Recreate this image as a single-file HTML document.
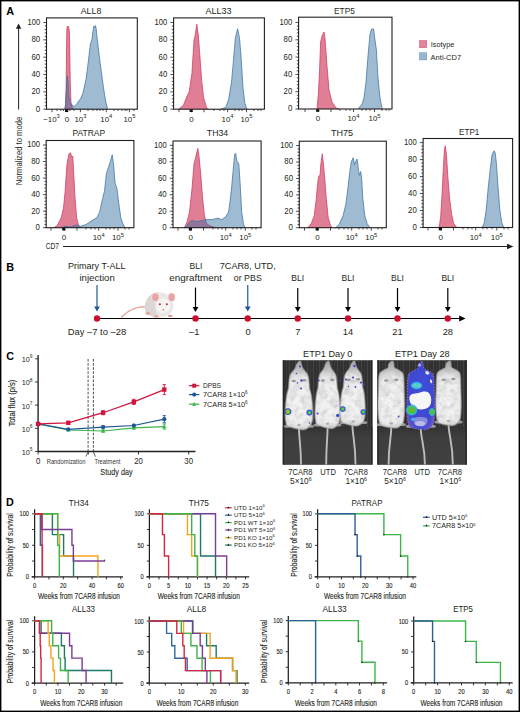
<!DOCTYPE html>
<html><head><meta charset="utf-8"><style>
html,body{margin:0;padding:0;background:#fff;}
body{width:520px;height:712px;overflow:hidden;}
svg{display:block;font-family:"Liberation Sans", sans-serif;}
</style></head><body>
<svg width="520" height="712" viewBox="0 0 520 712" font-family='"Liberation Sans", sans-serif'>
<rect width="520" height="712" fill="#fff"/>
<text x="6.2" y="14.8" font-size="10.8" text-anchor="start" font-weight="bold" fill="#000" >A</text>
<line x1="18.6" y1="109.5" x2="18.6" y2="28" stroke="#231f20" stroke-width="1"/>
<path d="M15.9,28.8 L18.6,23.6 L21.3,28.8 Z" fill="#231f20"/>
<text transform="translate(21.7,151) rotate(-90)" font-size="8.6" text-anchor="middle" fill="#231f20" textLength="68.5" lengthAdjust="spacingAndGlyphs">Normalized to mode</text>
<text x="45.8" y="249.3" font-size="8.8" text-anchor="start" font-weight="normal" fill="#231f20" textLength="13.2" lengthAdjust="spacingAndGlyphs" >CD7</text>
<line x1="63" y1="246.5" x2="508" y2="246.5" stroke="#231f20" stroke-width="1"/>
<path d="M507,243.8 L513.5,246.5 L507,249.2 Z" fill="#231f20"/>
<path d="M64.80,109.20 L65.60,104.00 L66.10,90.00 L66.40,60.00 L66.80,30.00 L67.20,26.50 L68.60,26.50 L69.40,32.00 L69.90,60.00 L70.30,85.00 L71.00,103.00 L72.50,108.50 L74.00,109.20 Z" fill="#cc2850" fill-opacity="0.6" stroke="none"/>
<path d="M64.80,109.20 L65.60,104.00 L66.10,90.00 L66.40,60.00 L66.80,30.00 L67.20,26.50 L68.60,26.50 L69.40,32.00 L69.90,60.00 L70.30,85.00 L71.00,103.00 L72.50,108.50 L74.00,109.20" fill="none" stroke="#cf3a5e" stroke-width="0.75" stroke-linejoin="round"/>
<path d="M65.20,109.20 L65.80,100.00 L66.60,85.00 L67.30,75.70 L68.10,82.00 L68.80,96.50 L70.20,102.40 L72.20,105.20 L74.20,106.40 L76.50,104.50 L79.00,100.50 L80.40,99.20 L83.00,93.00 L86.20,78.50 L88.50,60.00 L90.40,43.80 L91.90,40.00 L93.00,31.00 L93.80,26.20 L94.50,27.50 L95.40,25.60 L96.20,29.00 L96.70,34.20 L98.70,51.50 L100.00,62.00 L101.50,72.70 L103.50,88.00 L105.40,99.60 L106.50,105.00 L107.70,109.20 Z" fill="#326ea0" fill-opacity="0.47" stroke="none"/>
<path d="M65.20,109.20 L65.80,100.00 L66.60,85.00 L67.30,75.70 L68.10,82.00 L68.80,96.50 L70.20,102.40 L72.20,105.20 L74.20,106.40 L76.50,104.50 L79.00,100.50 L80.40,99.20 L83.00,93.00 L86.20,78.50 L88.50,60.00 L90.40,43.80 L91.90,40.00 L93.00,31.00 L93.80,26.20 L94.50,27.50 L95.40,25.60 L96.20,29.00 L96.70,34.20 L98.70,51.50 L100.00,62.00 L101.50,72.70 L103.50,88.00 L105.40,99.60 L106.50,105.00 L107.70,109.20" fill="none" stroke="#3d73a3" stroke-width="0.75" stroke-linejoin="round"/>
<rect x="46.5" y="17.9" width="90.80000000000001" height="91.30000000000001" fill="none" stroke="#231f20" stroke-width="1.1"/>
<line x1="43.30" y1="109.20" x2="46.5" y2="109.20" stroke="#231f20" stroke-width="0.8"/>
<text x="40.2" y="111.65" font-size="8.6" text-anchor="end" font-weight="normal" fill="#231f20" textLength="4.4" lengthAdjust="spacingAndGlyphs" >0</text>
<line x1="44.70" y1="105.73" x2="46.5" y2="105.73" stroke="#231f20" stroke-width="0.8"/>
<line x1="44.70" y1="102.26" x2="46.5" y2="102.26" stroke="#231f20" stroke-width="0.8"/>
<line x1="44.70" y1="98.80" x2="46.5" y2="98.80" stroke="#231f20" stroke-width="0.8"/>
<line x1="44.70" y1="95.33" x2="46.5" y2="95.33" stroke="#231f20" stroke-width="0.8"/>
<line x1="43.30" y1="91.86" x2="46.5" y2="91.86" stroke="#231f20" stroke-width="0.8"/>
<text x="40.2" y="94.31" font-size="8.6" text-anchor="end" font-weight="normal" fill="#231f20" textLength="8.7" lengthAdjust="spacingAndGlyphs" >20</text>
<line x1="44.70" y1="88.39" x2="46.5" y2="88.39" stroke="#231f20" stroke-width="0.8"/>
<line x1="44.70" y1="84.92" x2="46.5" y2="84.92" stroke="#231f20" stroke-width="0.8"/>
<line x1="44.70" y1="81.46" x2="46.5" y2="81.46" stroke="#231f20" stroke-width="0.8"/>
<line x1="44.70" y1="77.99" x2="46.5" y2="77.99" stroke="#231f20" stroke-width="0.8"/>
<line x1="43.30" y1="74.52" x2="46.5" y2="74.52" stroke="#231f20" stroke-width="0.8"/>
<text x="40.2" y="76.97000000000001" font-size="8.6" text-anchor="end" font-weight="normal" fill="#231f20" textLength="8.7" lengthAdjust="spacingAndGlyphs" >40</text>
<line x1="44.70" y1="71.05" x2="46.5" y2="71.05" stroke="#231f20" stroke-width="0.8"/>
<line x1="44.70" y1="67.58" x2="46.5" y2="67.58" stroke="#231f20" stroke-width="0.8"/>
<line x1="44.70" y1="64.12" x2="46.5" y2="64.12" stroke="#231f20" stroke-width="0.8"/>
<line x1="44.70" y1="60.65" x2="46.5" y2="60.65" stroke="#231f20" stroke-width="0.8"/>
<line x1="43.30" y1="57.18" x2="46.5" y2="57.18" stroke="#231f20" stroke-width="0.8"/>
<text x="40.2" y="59.63000000000001" font-size="8.6" text-anchor="end" font-weight="normal" fill="#231f20" textLength="8.7" lengthAdjust="spacingAndGlyphs" >60</text>
<line x1="44.70" y1="53.71" x2="46.5" y2="53.71" stroke="#231f20" stroke-width="0.8"/>
<line x1="44.70" y1="50.24" x2="46.5" y2="50.24" stroke="#231f20" stroke-width="0.8"/>
<line x1="44.70" y1="46.78" x2="46.5" y2="46.78" stroke="#231f20" stroke-width="0.8"/>
<line x1="44.70" y1="43.31" x2="46.5" y2="43.31" stroke="#231f20" stroke-width="0.8"/>
<line x1="43.30" y1="39.84" x2="46.5" y2="39.84" stroke="#231f20" stroke-width="0.8"/>
<text x="40.2" y="42.290000000000006" font-size="8.6" text-anchor="end" font-weight="normal" fill="#231f20" textLength="8.7" lengthAdjust="spacingAndGlyphs" >80</text>
<line x1="44.70" y1="36.37" x2="46.5" y2="36.37" stroke="#231f20" stroke-width="0.8"/>
<line x1="44.70" y1="32.90" x2="46.5" y2="32.90" stroke="#231f20" stroke-width="0.8"/>
<line x1="44.70" y1="29.44" x2="46.5" y2="29.44" stroke="#231f20" stroke-width="0.8"/>
<line x1="44.70" y1="25.97" x2="46.5" y2="25.97" stroke="#231f20" stroke-width="0.8"/>
<line x1="43.30" y1="22.50" x2="46.5" y2="22.50" stroke="#231f20" stroke-width="0.8"/>
<text x="40.2" y="24.95" font-size="8.6" text-anchor="end" font-weight="normal" fill="#231f20" textLength="12.7" lengthAdjust="spacingAndGlyphs" >100</text>
<line x1="52.00" y1="109.2" x2="52.00" y2="112.2" stroke="#231f20" stroke-width="0.8"/>
<line x1="57.00" y1="109.2" x2="57.00" y2="111.0" stroke="#231f20" stroke-width="0.8"/>
<line x1="61.00" y1="109.2" x2="61.00" y2="111.0" stroke="#231f20" stroke-width="0.8"/>
<line x1="63.50" y1="109.2" x2="63.50" y2="111.0" stroke="#231f20" stroke-width="0.8"/>
<line x1="66.90" y1="109.2" x2="66.90" y2="112.2" stroke="#231f20" stroke-width="0.8"/>
<line x1="70.00" y1="109.2" x2="70.00" y2="111.0" stroke="#231f20" stroke-width="0.8"/>
<line x1="74.00" y1="109.2" x2="74.00" y2="111.0" stroke="#231f20" stroke-width="0.8"/>
<line x1="80.40" y1="109.2" x2="80.40" y2="112.2" stroke="#231f20" stroke-width="0.8"/>
<line x1="88.00" y1="109.2" x2="88.00" y2="111.0" stroke="#231f20" stroke-width="0.8"/>
<line x1="93.00" y1="109.2" x2="93.00" y2="111.0" stroke="#231f20" stroke-width="0.8"/>
<line x1="97.00" y1="109.2" x2="97.00" y2="111.0" stroke="#231f20" stroke-width="0.8"/>
<line x1="100.00" y1="109.2" x2="100.00" y2="111.0" stroke="#231f20" stroke-width="0.8"/>
<line x1="103.00" y1="109.2" x2="103.00" y2="111.0" stroke="#231f20" stroke-width="0.8"/>
<line x1="106.30" y1="109.2" x2="106.30" y2="112.2" stroke="#231f20" stroke-width="0.8"/>
<line x1="114.00" y1="109.2" x2="114.00" y2="111.0" stroke="#231f20" stroke-width="0.8"/>
<line x1="118.00" y1="109.2" x2="118.00" y2="111.0" stroke="#231f20" stroke-width="0.8"/>
<line x1="122.00" y1="109.2" x2="122.00" y2="111.0" stroke="#231f20" stroke-width="0.8"/>
<line x1="125.00" y1="109.2" x2="125.00" y2="111.0" stroke="#231f20" stroke-width="0.8"/>
<line x1="127.00" y1="109.2" x2="127.00" y2="111.0" stroke="#231f20" stroke-width="0.8"/>
<line x1="129.40" y1="109.2" x2="129.40" y2="112.2" stroke="#231f20" stroke-width="0.8"/>
<line x1="134.00" y1="109.2" x2="134.00" y2="111.0" stroke="#231f20" stroke-width="0.8"/>
<text x="51.5" y="121.5" font-size="7.9" text-anchor="middle" fill="#231f20">&#8722;10<tspan font-size="5.8" dy="-3.3">3</tspan></text>
<text x="66.9" y="121.5" font-size="8.0" text-anchor="middle" font-weight="normal" fill="#231f20" >0</text>
<rect x="65.00" y="109.50" width="3.2" height="2.5" fill="#111"/>
<text x="80.4" y="121.5" font-size="7.9" text-anchor="middle" fill="#231f20">10<tspan font-size="5.8" dy="-3.3">3</tspan></text>
<text x="106.3" y="121.5" font-size="7.9" text-anchor="middle" fill="#231f20">10<tspan font-size="5.8" dy="-3.3">4</tspan></text>
<text x="129.4" y="121.5" font-size="7.9" text-anchor="middle" fill="#231f20">10<tspan font-size="5.8" dy="-3.3">5</tspan></text>
<text x="91.0" y="13.6" font-size="9.3" text-anchor="middle" font-weight="normal" fill="#231f20" textLength="20.6" lengthAdjust="spacingAndGlyphs" >ALL8</text>
<path d="M178.60,109.20 L183.40,105.30 L187.20,95.80 L189.20,91.90 L192.00,72.70 L194.00,40.00 L195.00,36.20 L196.80,24.20 L198.40,36.20 L199.70,53.50 L201.70,80.40 L203.60,97.70 L206.50,107.30 L208.40,109.20 Z" fill="#cc2850" fill-opacity="0.6" stroke="none"/>
<path d="M178.60,109.20 L183.40,105.30 L187.20,95.80 L189.20,91.90 L192.00,72.70 L194.00,40.00 L195.00,36.20 L196.80,24.20 L198.40,36.20 L199.70,53.50 L201.70,80.40 L203.60,97.70 L206.50,107.30 L208.40,109.20" fill="none" stroke="#cf3a5e" stroke-width="0.75" stroke-linejoin="round"/>
<path d="M220.90,109.20 L225.70,107.30 L228.60,99.60 L231.50,82.30 L233.40,61.20 L235.30,38.10 L237.60,28.80 L239.50,38.10 L241.10,57.30 L243.00,88.10 L244.90,103.50 L246.80,109.20 Z" fill="#326ea0" fill-opacity="0.47" stroke="none"/>
<path d="M220.90,109.20 L225.70,107.30 L228.60,99.60 L231.50,82.30 L233.40,61.20 L235.30,38.10 L237.60,28.80 L239.50,38.10 L241.10,57.30 L243.00,88.10 L244.90,103.50 L246.80,109.20" fill="none" stroke="#3d73a3" stroke-width="0.75" stroke-linejoin="round"/>
<rect x="173.6" y="17.9" width="90.79999999999998" height="91.30000000000001" fill="none" stroke="#231f20" stroke-width="1.1"/>
<line x1="170.40" y1="109.20" x2="173.6" y2="109.20" stroke="#231f20" stroke-width="0.8"/>
<text x="167.29999999999998" y="111.65" font-size="8.6" text-anchor="end" font-weight="normal" fill="#231f20" textLength="4.4" lengthAdjust="spacingAndGlyphs" >0</text>
<line x1="171.80" y1="105.73" x2="173.6" y2="105.73" stroke="#231f20" stroke-width="0.8"/>
<line x1="171.80" y1="102.26" x2="173.6" y2="102.26" stroke="#231f20" stroke-width="0.8"/>
<line x1="171.80" y1="98.80" x2="173.6" y2="98.80" stroke="#231f20" stroke-width="0.8"/>
<line x1="171.80" y1="95.33" x2="173.6" y2="95.33" stroke="#231f20" stroke-width="0.8"/>
<line x1="170.40" y1="91.86" x2="173.6" y2="91.86" stroke="#231f20" stroke-width="0.8"/>
<text x="167.29999999999998" y="94.31" font-size="8.6" text-anchor="end" font-weight="normal" fill="#231f20" textLength="8.7" lengthAdjust="spacingAndGlyphs" >20</text>
<line x1="171.80" y1="88.39" x2="173.6" y2="88.39" stroke="#231f20" stroke-width="0.8"/>
<line x1="171.80" y1="84.92" x2="173.6" y2="84.92" stroke="#231f20" stroke-width="0.8"/>
<line x1="171.80" y1="81.46" x2="173.6" y2="81.46" stroke="#231f20" stroke-width="0.8"/>
<line x1="171.80" y1="77.99" x2="173.6" y2="77.99" stroke="#231f20" stroke-width="0.8"/>
<line x1="170.40" y1="74.52" x2="173.6" y2="74.52" stroke="#231f20" stroke-width="0.8"/>
<text x="167.29999999999998" y="76.97000000000001" font-size="8.6" text-anchor="end" font-weight="normal" fill="#231f20" textLength="8.7" lengthAdjust="spacingAndGlyphs" >40</text>
<line x1="171.80" y1="71.05" x2="173.6" y2="71.05" stroke="#231f20" stroke-width="0.8"/>
<line x1="171.80" y1="67.58" x2="173.6" y2="67.58" stroke="#231f20" stroke-width="0.8"/>
<line x1="171.80" y1="64.12" x2="173.6" y2="64.12" stroke="#231f20" stroke-width="0.8"/>
<line x1="171.80" y1="60.65" x2="173.6" y2="60.65" stroke="#231f20" stroke-width="0.8"/>
<line x1="170.40" y1="57.18" x2="173.6" y2="57.18" stroke="#231f20" stroke-width="0.8"/>
<text x="167.29999999999998" y="59.63000000000001" font-size="8.6" text-anchor="end" font-weight="normal" fill="#231f20" textLength="8.7" lengthAdjust="spacingAndGlyphs" >60</text>
<line x1="171.80" y1="53.71" x2="173.6" y2="53.71" stroke="#231f20" stroke-width="0.8"/>
<line x1="171.80" y1="50.24" x2="173.6" y2="50.24" stroke="#231f20" stroke-width="0.8"/>
<line x1="171.80" y1="46.78" x2="173.6" y2="46.78" stroke="#231f20" stroke-width="0.8"/>
<line x1="171.80" y1="43.31" x2="173.6" y2="43.31" stroke="#231f20" stroke-width="0.8"/>
<line x1="170.40" y1="39.84" x2="173.6" y2="39.84" stroke="#231f20" stroke-width="0.8"/>
<text x="167.29999999999998" y="42.290000000000006" font-size="8.6" text-anchor="end" font-weight="normal" fill="#231f20" textLength="8.7" lengthAdjust="spacingAndGlyphs" >80</text>
<line x1="171.80" y1="36.37" x2="173.6" y2="36.37" stroke="#231f20" stroke-width="0.8"/>
<line x1="171.80" y1="32.90" x2="173.6" y2="32.90" stroke="#231f20" stroke-width="0.8"/>
<line x1="171.80" y1="29.44" x2="173.6" y2="29.44" stroke="#231f20" stroke-width="0.8"/>
<line x1="171.80" y1="25.97" x2="173.6" y2="25.97" stroke="#231f20" stroke-width="0.8"/>
<line x1="170.40" y1="22.50" x2="173.6" y2="22.50" stroke="#231f20" stroke-width="0.8"/>
<text x="167.29999999999998" y="24.95" font-size="8.6" text-anchor="end" font-weight="normal" fill="#231f20" textLength="12.7" lengthAdjust="spacingAndGlyphs" >100</text>
<line x1="179.00" y1="109.2" x2="179.00" y2="112.2" stroke="#231f20" stroke-width="0.8"/>
<line x1="191.50" y1="109.2" x2="191.50" y2="112.2" stroke="#231f20" stroke-width="0.8"/>
<line x1="204.00" y1="109.2" x2="204.00" y2="112.2" stroke="#231f20" stroke-width="0.8"/>
<line x1="214.00" y1="109.2" x2="214.00" y2="111.0" stroke="#231f20" stroke-width="0.8"/>
<line x1="220.00" y1="109.2" x2="220.00" y2="111.0" stroke="#231f20" stroke-width="0.8"/>
<line x1="224.00" y1="109.2" x2="224.00" y2="111.0" stroke="#231f20" stroke-width="0.8"/>
<line x1="227.60" y1="109.2" x2="227.60" y2="112.2" stroke="#231f20" stroke-width="0.8"/>
<line x1="235.00" y1="109.2" x2="235.00" y2="111.0" stroke="#231f20" stroke-width="0.8"/>
<line x1="239.00" y1="109.2" x2="239.00" y2="111.0" stroke="#231f20" stroke-width="0.8"/>
<line x1="242.00" y1="109.2" x2="242.00" y2="111.0" stroke="#231f20" stroke-width="0.8"/>
<line x1="246.50" y1="109.2" x2="246.50" y2="112.2" stroke="#231f20" stroke-width="0.8"/>
<line x1="254.00" y1="109.2" x2="254.00" y2="111.0" stroke="#231f20" stroke-width="0.8"/>
<line x1="258.00" y1="109.2" x2="258.00" y2="111.0" stroke="#231f20" stroke-width="0.8"/>
<line x1="261.00" y1="109.2" x2="261.00" y2="111.0" stroke="#231f20" stroke-width="0.8"/>
<text x="191.5" y="121.5" font-size="8.0" text-anchor="middle" font-weight="normal" fill="#231f20" >0</text>
<rect x="189.60" y="109.50" width="3.2" height="2.5" fill="#111"/>
<text x="227.6" y="121.5" font-size="7.9" text-anchor="middle" fill="#231f20">10<tspan font-size="5.8" dy="-3.3">4</tspan></text>
<text x="246.5" y="121.5" font-size="7.9" text-anchor="middle" fill="#231f20">10<tspan font-size="5.8" dy="-3.3">5</tspan></text>
<text x="218.5" y="13.6" font-size="9.3" text-anchor="middle" font-weight="normal" fill="#231f20" textLength="26.0" lengthAdjust="spacingAndGlyphs" >ALL33</text>
<path d="M317.00,109.00 L318.40,94.00 L319.60,70.00 L320.60,42.00 L322.00,36.00 L324.00,32.00 L325.00,38.00 L327.00,66.00 L329.00,90.00 L332.00,102.00 L336.00,108.00 L339.00,109.00 Z" fill="#cc2850" fill-opacity="0.6" stroke="none"/>
<path d="M317.00,109.00 L318.40,94.00 L319.60,70.00 L320.60,42.00 L322.00,36.00 L324.00,32.00 L325.00,38.00 L327.00,66.00 L329.00,90.00 L332.00,102.00 L336.00,108.00 L339.00,109.00" fill="none" stroke="#cf3a5e" stroke-width="0.75" stroke-linejoin="round"/>
<path d="M358.00,109.00 L362.00,104.00 L364.00,98.00 L366.00,82.00 L368.00,56.00 L370.00,34.00 L371.60,29.00 L373.60,29.00 L375.00,40.00 L376.40,50.00 L378.00,78.00 L380.00,98.00 L382.00,108.00 L383.00,109.00 Z" fill="#326ea0" fill-opacity="0.47" stroke="none"/>
<path d="M358.00,109.00 L362.00,104.00 L364.00,98.00 L366.00,82.00 L368.00,56.00 L370.00,34.00 L371.60,29.00 L373.60,29.00 L375.00,40.00 L376.40,50.00 L378.00,78.00 L380.00,98.00 L382.00,108.00 L383.00,109.00" fill="none" stroke="#3d73a3" stroke-width="0.75" stroke-linejoin="round"/>
<rect x="298.6" y="17.2" width="93.39999999999998" height="91.8" fill="none" stroke="#231f20" stroke-width="1.1"/>
<line x1="295.40" y1="109.00" x2="298.6" y2="109.00" stroke="#231f20" stroke-width="0.8"/>
<text x="292.3" y="111.45" font-size="8.6" text-anchor="end" font-weight="normal" fill="#231f20" textLength="4.4" lengthAdjust="spacingAndGlyphs" >0</text>
<line x1="296.80" y1="105.54" x2="298.6" y2="105.54" stroke="#231f20" stroke-width="0.8"/>
<line x1="296.80" y1="102.08" x2="298.6" y2="102.08" stroke="#231f20" stroke-width="0.8"/>
<line x1="296.80" y1="98.62" x2="298.6" y2="98.62" stroke="#231f20" stroke-width="0.8"/>
<line x1="296.80" y1="95.16" x2="298.6" y2="95.16" stroke="#231f20" stroke-width="0.8"/>
<line x1="295.40" y1="91.70" x2="298.6" y2="91.70" stroke="#231f20" stroke-width="0.8"/>
<text x="292.3" y="94.15" font-size="8.6" text-anchor="end" font-weight="normal" fill="#231f20" textLength="8.7" lengthAdjust="spacingAndGlyphs" >20</text>
<line x1="296.80" y1="88.24" x2="298.6" y2="88.24" stroke="#231f20" stroke-width="0.8"/>
<line x1="296.80" y1="84.78" x2="298.6" y2="84.78" stroke="#231f20" stroke-width="0.8"/>
<line x1="296.80" y1="81.32" x2="298.6" y2="81.32" stroke="#231f20" stroke-width="0.8"/>
<line x1="296.80" y1="77.86" x2="298.6" y2="77.86" stroke="#231f20" stroke-width="0.8"/>
<line x1="295.40" y1="74.40" x2="298.6" y2="74.40" stroke="#231f20" stroke-width="0.8"/>
<text x="292.3" y="76.85000000000001" font-size="8.6" text-anchor="end" font-weight="normal" fill="#231f20" textLength="8.7" lengthAdjust="spacingAndGlyphs" >40</text>
<line x1="296.80" y1="70.94" x2="298.6" y2="70.94" stroke="#231f20" stroke-width="0.8"/>
<line x1="296.80" y1="67.48" x2="298.6" y2="67.48" stroke="#231f20" stroke-width="0.8"/>
<line x1="296.80" y1="64.02" x2="298.6" y2="64.02" stroke="#231f20" stroke-width="0.8"/>
<line x1="296.80" y1="60.56" x2="298.6" y2="60.56" stroke="#231f20" stroke-width="0.8"/>
<line x1="295.40" y1="57.10" x2="298.6" y2="57.10" stroke="#231f20" stroke-width="0.8"/>
<text x="292.3" y="59.550000000000004" font-size="8.6" text-anchor="end" font-weight="normal" fill="#231f20" textLength="8.7" lengthAdjust="spacingAndGlyphs" >60</text>
<line x1="296.80" y1="53.64" x2="298.6" y2="53.64" stroke="#231f20" stroke-width="0.8"/>
<line x1="296.80" y1="50.18" x2="298.6" y2="50.18" stroke="#231f20" stroke-width="0.8"/>
<line x1="296.80" y1="46.72" x2="298.6" y2="46.72" stroke="#231f20" stroke-width="0.8"/>
<line x1="296.80" y1="43.26" x2="298.6" y2="43.26" stroke="#231f20" stroke-width="0.8"/>
<line x1="295.40" y1="39.80" x2="298.6" y2="39.80" stroke="#231f20" stroke-width="0.8"/>
<text x="292.3" y="42.25" font-size="8.6" text-anchor="end" font-weight="normal" fill="#231f20" textLength="8.7" lengthAdjust="spacingAndGlyphs" >80</text>
<line x1="296.80" y1="36.34" x2="298.6" y2="36.34" stroke="#231f20" stroke-width="0.8"/>
<line x1="296.80" y1="32.88" x2="298.6" y2="32.88" stroke="#231f20" stroke-width="0.8"/>
<line x1="296.80" y1="29.42" x2="298.6" y2="29.42" stroke="#231f20" stroke-width="0.8"/>
<line x1="296.80" y1="25.96" x2="298.6" y2="25.96" stroke="#231f20" stroke-width="0.8"/>
<line x1="295.40" y1="22.50" x2="298.6" y2="22.50" stroke="#231f20" stroke-width="0.8"/>
<text x="292.3" y="24.95" font-size="8.6" text-anchor="end" font-weight="normal" fill="#231f20" textLength="12.7" lengthAdjust="spacingAndGlyphs" >100</text>
<line x1="305.00" y1="109.0" x2="305.00" y2="112.0" stroke="#231f20" stroke-width="0.8"/>
<line x1="318.00" y1="109.0" x2="318.00" y2="112.0" stroke="#231f20" stroke-width="0.8"/>
<line x1="331.00" y1="109.0" x2="331.00" y2="112.0" stroke="#231f20" stroke-width="0.8"/>
<line x1="340.00" y1="109.0" x2="340.00" y2="110.8" stroke="#231f20" stroke-width="0.8"/>
<line x1="346.00" y1="109.0" x2="346.00" y2="110.8" stroke="#231f20" stroke-width="0.8"/>
<line x1="350.00" y1="109.0" x2="350.00" y2="110.8" stroke="#231f20" stroke-width="0.8"/>
<line x1="353.50" y1="109.0" x2="353.50" y2="112.0" stroke="#231f20" stroke-width="0.8"/>
<line x1="362.00" y1="109.0" x2="362.00" y2="110.8" stroke="#231f20" stroke-width="0.8"/>
<line x1="366.00" y1="109.0" x2="366.00" y2="110.8" stroke="#231f20" stroke-width="0.8"/>
<line x1="370.00" y1="109.0" x2="370.00" y2="110.8" stroke="#231f20" stroke-width="0.8"/>
<line x1="374.60" y1="109.0" x2="374.60" y2="112.0" stroke="#231f20" stroke-width="0.8"/>
<line x1="382.00" y1="109.0" x2="382.00" y2="110.8" stroke="#231f20" stroke-width="0.8"/>
<line x1="386.00" y1="109.0" x2="386.00" y2="110.8" stroke="#231f20" stroke-width="0.8"/>
<line x1="389.00" y1="109.0" x2="389.00" y2="110.8" stroke="#231f20" stroke-width="0.8"/>
<text x="318" y="121.3" font-size="8.0" text-anchor="middle" font-weight="normal" fill="#231f20" >0</text>
<rect x="316.10" y="109.30" width="3.2" height="2.5" fill="#111"/>
<text x="353.5" y="121.3" font-size="7.9" text-anchor="middle" fill="#231f20">10<tspan font-size="5.8" dy="-3.3">4</tspan></text>
<text x="374.6" y="121.3" font-size="7.9" text-anchor="middle" fill="#231f20">10<tspan font-size="5.8" dy="-3.3">5</tspan></text>
<text x="344.5" y="13.6" font-size="9.3" text-anchor="middle" font-weight="normal" fill="#231f20" textLength="20.9" lengthAdjust="spacingAndGlyphs" >ETP5</text>
<rect x="419.5" y="40.5" width="7.2" height="7.2" fill="#cc2850" fill-opacity="0.57" stroke="#cc2850" stroke-opacity="0.6" stroke-width="0.6"/>
<rect x="419.5" y="52.7" width="7.2" height="7.2" fill="#326ea0" fill-opacity="0.5" stroke="#326ea0" stroke-opacity="0.55" stroke-width="0.6"/>
<text x="430.8" y="47.2" font-size="7.4" text-anchor="start" font-weight="normal" fill="#231f20" textLength="23.6" lengthAdjust="spacingAndGlyphs" >Isotype</text>
<text x="430.6" y="59.6" font-size="7.4" text-anchor="start" font-weight="normal" fill="#231f20" textLength="30.5" lengthAdjust="spacingAndGlyphs" >Anti-CD7</text>
<path d="M53.50,227.90 L57.40,225.40 L61.20,217.70 L63.50,208.10 L65.00,192.70 L67.00,163.80 L68.90,154.20 L70.50,152.70 L71.80,157.10 L72.80,156.20 L73.70,173.50 L75.10,198.50 L76.60,217.70 L78.50,225.40 L80.50,227.90 Z" fill="#cc2850" fill-opacity="0.6" stroke="none"/>
<path d="M53.50,227.90 L57.40,225.40 L61.20,217.70 L63.50,208.10 L65.00,192.70 L67.00,163.80 L68.90,154.20 L70.50,152.70 L71.80,157.10 L72.80,156.20 L73.70,173.50 L75.10,198.50 L76.60,217.70 L78.50,225.40 L80.50,227.90" fill="none" stroke="#cf3a5e" stroke-width="0.75" stroke-linejoin="round"/>
<path d="M61.20,227.90 L65.00,226.30 L70.80,226.90 L75.70,225.00 L80.50,226.30 L86.20,224.40 L92.00,220.60 L96.80,217.70 L99.70,211.90 L102.60,198.50 L104.50,190.80 L106.40,173.50 L108.30,167.70 L110.30,161.90 L112.20,154.80 L113.50,163.80 L115.10,183.10 L117.00,188.80 L118.90,204.20 L120.80,217.70 L122.80,223.50 L125.10,227.90 Z" fill="#326ea0" fill-opacity="0.47" stroke="none"/>
<path d="M61.20,227.90 L65.00,226.30 L70.80,226.90 L75.70,225.00 L80.50,226.30 L86.20,224.40 L92.00,220.60 L96.80,217.70 L99.70,211.90 L102.60,198.50 L104.50,190.80 L106.40,173.50 L108.30,167.70 L110.30,161.90 L112.20,154.80 L113.50,163.80 L115.10,183.10 L117.00,188.80 L118.90,204.20 L120.80,217.70 L122.80,223.50 L125.10,227.90" fill="none" stroke="#3d73a3" stroke-width="0.75" stroke-linejoin="round"/>
<rect x="46.2" y="140.5" width="87.7" height="87.19999999999999" fill="none" stroke="#231f20" stroke-width="1.1"/>
<line x1="43.00" y1="227.70" x2="46.2" y2="227.70" stroke="#231f20" stroke-width="0.8"/>
<text x="39.900000000000006" y="230.14999999999998" font-size="8.6" text-anchor="end" font-weight="normal" fill="#231f20" textLength="4.4" lengthAdjust="spacingAndGlyphs" >0</text>
<line x1="44.40" y1="224.39" x2="46.2" y2="224.39" stroke="#231f20" stroke-width="0.8"/>
<line x1="44.40" y1="221.08" x2="46.2" y2="221.08" stroke="#231f20" stroke-width="0.8"/>
<line x1="44.40" y1="217.78" x2="46.2" y2="217.78" stroke="#231f20" stroke-width="0.8"/>
<line x1="44.40" y1="214.47" x2="46.2" y2="214.47" stroke="#231f20" stroke-width="0.8"/>
<line x1="43.00" y1="211.16" x2="46.2" y2="211.16" stroke="#231f20" stroke-width="0.8"/>
<text x="39.900000000000006" y="213.60999999999999" font-size="8.6" text-anchor="end" font-weight="normal" fill="#231f20" textLength="8.7" lengthAdjust="spacingAndGlyphs" >20</text>
<line x1="44.40" y1="207.85" x2="46.2" y2="207.85" stroke="#231f20" stroke-width="0.8"/>
<line x1="44.40" y1="204.54" x2="46.2" y2="204.54" stroke="#231f20" stroke-width="0.8"/>
<line x1="44.40" y1="201.24" x2="46.2" y2="201.24" stroke="#231f20" stroke-width="0.8"/>
<line x1="44.40" y1="197.93" x2="46.2" y2="197.93" stroke="#231f20" stroke-width="0.8"/>
<line x1="43.00" y1="194.62" x2="46.2" y2="194.62" stroke="#231f20" stroke-width="0.8"/>
<text x="39.900000000000006" y="197.07" font-size="8.6" text-anchor="end" font-weight="normal" fill="#231f20" textLength="8.7" lengthAdjust="spacingAndGlyphs" >40</text>
<line x1="44.40" y1="191.31" x2="46.2" y2="191.31" stroke="#231f20" stroke-width="0.8"/>
<line x1="44.40" y1="188.00" x2="46.2" y2="188.00" stroke="#231f20" stroke-width="0.8"/>
<line x1="44.40" y1="184.70" x2="46.2" y2="184.70" stroke="#231f20" stroke-width="0.8"/>
<line x1="44.40" y1="181.39" x2="46.2" y2="181.39" stroke="#231f20" stroke-width="0.8"/>
<line x1="43.00" y1="178.08" x2="46.2" y2="178.08" stroke="#231f20" stroke-width="0.8"/>
<text x="39.900000000000006" y="180.52999999999997" font-size="8.6" text-anchor="end" font-weight="normal" fill="#231f20" textLength="8.7" lengthAdjust="spacingAndGlyphs" >60</text>
<line x1="44.40" y1="174.77" x2="46.2" y2="174.77" stroke="#231f20" stroke-width="0.8"/>
<line x1="44.40" y1="171.46" x2="46.2" y2="171.46" stroke="#231f20" stroke-width="0.8"/>
<line x1="44.40" y1="168.16" x2="46.2" y2="168.16" stroke="#231f20" stroke-width="0.8"/>
<line x1="44.40" y1="164.85" x2="46.2" y2="164.85" stroke="#231f20" stroke-width="0.8"/>
<line x1="43.00" y1="161.54" x2="46.2" y2="161.54" stroke="#231f20" stroke-width="0.8"/>
<text x="39.900000000000006" y="163.99" font-size="8.6" text-anchor="end" font-weight="normal" fill="#231f20" textLength="8.7" lengthAdjust="spacingAndGlyphs" >80</text>
<line x1="44.40" y1="158.23" x2="46.2" y2="158.23" stroke="#231f20" stroke-width="0.8"/>
<line x1="44.40" y1="154.92" x2="46.2" y2="154.92" stroke="#231f20" stroke-width="0.8"/>
<line x1="44.40" y1="151.62" x2="46.2" y2="151.62" stroke="#231f20" stroke-width="0.8"/>
<line x1="44.40" y1="148.31" x2="46.2" y2="148.31" stroke="#231f20" stroke-width="0.8"/>
<line x1="43.00" y1="145.00" x2="46.2" y2="145.00" stroke="#231f20" stroke-width="0.8"/>
<text x="39.900000000000006" y="147.45" font-size="8.6" text-anchor="end" font-weight="normal" fill="#231f20" textLength="12.7" lengthAdjust="spacingAndGlyphs" >100</text>
<line x1="51.00" y1="227.7" x2="51.00" y2="230.7" stroke="#231f20" stroke-width="0.8"/>
<line x1="64.10" y1="227.7" x2="64.10" y2="230.7" stroke="#231f20" stroke-width="0.8"/>
<line x1="77.00" y1="227.7" x2="77.00" y2="230.7" stroke="#231f20" stroke-width="0.8"/>
<line x1="86.00" y1="227.7" x2="86.00" y2="229.5" stroke="#231f20" stroke-width="0.8"/>
<line x1="91.00" y1="227.7" x2="91.00" y2="229.5" stroke="#231f20" stroke-width="0.8"/>
<line x1="95.00" y1="227.7" x2="95.00" y2="229.5" stroke="#231f20" stroke-width="0.8"/>
<line x1="98.70" y1="227.7" x2="98.70" y2="230.7" stroke="#231f20" stroke-width="0.8"/>
<line x1="106.00" y1="227.7" x2="106.00" y2="229.5" stroke="#231f20" stroke-width="0.8"/>
<line x1="110.00" y1="227.7" x2="110.00" y2="229.5" stroke="#231f20" stroke-width="0.8"/>
<line x1="114.00" y1="227.7" x2="114.00" y2="229.5" stroke="#231f20" stroke-width="0.8"/>
<line x1="118.00" y1="227.7" x2="118.00" y2="230.7" stroke="#231f20" stroke-width="0.8"/>
<line x1="125.00" y1="227.7" x2="125.00" y2="229.5" stroke="#231f20" stroke-width="0.8"/>
<line x1="129.00" y1="227.7" x2="129.00" y2="229.5" stroke="#231f20" stroke-width="0.8"/>
<text x="64.1" y="240.0" font-size="8.0" text-anchor="middle" font-weight="normal" fill="#231f20" >0</text>
<rect x="62.20" y="228.00" width="3.2" height="2.5" fill="#111"/>
<text x="98.7" y="240.0" font-size="7.9" text-anchor="middle" fill="#231f20">10<tspan font-size="5.8" dy="-3.3">4</tspan></text>
<text x="118" y="240.0" font-size="7.9" text-anchor="middle" fill="#231f20">10<tspan font-size="5.8" dy="-3.3">5</tspan></text>
<text x="88.8" y="136.3" font-size="9.3" text-anchor="middle" font-weight="normal" fill="#231f20" textLength="32.7" lengthAdjust="spacingAndGlyphs" >PATRAP</text>
<path d="M184.30,227.90 L187.20,221.50 L189.50,211.90 L192.00,188.80 L194.00,163.80 L195.90,156.20 L197.80,148.50 L198.80,154.20 L200.70,173.50 L202.60,198.50 L204.50,215.80 L206.50,223.50 L209.30,225.40 L214.20,227.30 L216.00,227.90 Z" fill="#cc2850" fill-opacity="0.6" stroke="none"/>
<path d="M184.30,227.90 L187.20,221.50 L189.50,211.90 L192.00,188.80 L194.00,163.80 L195.90,156.20 L197.80,148.50 L198.80,154.20 L200.70,173.50 L202.60,198.50 L204.50,215.80 L206.50,223.50 L209.30,225.40 L214.20,227.30 L216.00,227.90" fill="none" stroke="#cf3a5e" stroke-width="0.75" stroke-linejoin="round"/>
<path d="M184.30,227.90 L187.20,225.40 L190.10,221.50 L192.00,220.60 L196.80,221.50 L202.60,220.60 L206.50,219.60 L212.20,219.60 L218.00,218.10 L221.80,219.60 L225.70,216.70 L228.60,211.90 L229.90,202.30 L231.50,188.80 L233.40,167.70 L234.70,154.20 L235.70,153.30 L236.80,161.00 L238.80,163.80 L240.10,183.10 L241.70,211.90 L243.40,223.50 L244.90,227.90 Z" fill="#326ea0" fill-opacity="0.47" stroke="none"/>
<path d="M184.30,227.90 L187.20,225.40 L190.10,221.50 L192.00,220.60 L196.80,221.50 L202.60,220.60 L206.50,219.60 L212.20,219.60 L218.00,218.10 L221.80,219.60 L225.70,216.70 L228.60,211.90 L229.90,202.30 L231.50,188.80 L233.40,167.70 L234.70,154.20 L235.70,153.30 L236.80,161.00 L238.80,163.80 L240.10,183.10 L241.70,211.90 L243.40,223.50 L244.90,227.90" fill="none" stroke="#3d73a3" stroke-width="0.75" stroke-linejoin="round"/>
<rect x="173.0" y="141.0" width="88.10000000000002" height="86.69999999999999" fill="none" stroke="#231f20" stroke-width="1.1"/>
<line x1="169.80" y1="227.70" x2="173.0" y2="227.70" stroke="#231f20" stroke-width="0.8"/>
<text x="166.7" y="230.14999999999998" font-size="8.6" text-anchor="end" font-weight="normal" fill="#231f20" textLength="4.4" lengthAdjust="spacingAndGlyphs" >0</text>
<line x1="171.20" y1="224.40" x2="173.0" y2="224.40" stroke="#231f20" stroke-width="0.8"/>
<line x1="171.20" y1="221.11" x2="173.0" y2="221.11" stroke="#231f20" stroke-width="0.8"/>
<line x1="171.20" y1="217.81" x2="173.0" y2="217.81" stroke="#231f20" stroke-width="0.8"/>
<line x1="171.20" y1="214.52" x2="173.0" y2="214.52" stroke="#231f20" stroke-width="0.8"/>
<line x1="169.80" y1="211.22" x2="173.0" y2="211.22" stroke="#231f20" stroke-width="0.8"/>
<text x="166.7" y="213.67" font-size="8.6" text-anchor="end" font-weight="normal" fill="#231f20" textLength="8.7" lengthAdjust="spacingAndGlyphs" >20</text>
<line x1="171.20" y1="207.92" x2="173.0" y2="207.92" stroke="#231f20" stroke-width="0.8"/>
<line x1="171.20" y1="204.63" x2="173.0" y2="204.63" stroke="#231f20" stroke-width="0.8"/>
<line x1="171.20" y1="201.33" x2="173.0" y2="201.33" stroke="#231f20" stroke-width="0.8"/>
<line x1="171.20" y1="198.04" x2="173.0" y2="198.04" stroke="#231f20" stroke-width="0.8"/>
<line x1="169.80" y1="194.74" x2="173.0" y2="194.74" stroke="#231f20" stroke-width="0.8"/>
<text x="166.7" y="197.19" font-size="8.6" text-anchor="end" font-weight="normal" fill="#231f20" textLength="8.7" lengthAdjust="spacingAndGlyphs" >40</text>
<line x1="171.20" y1="191.44" x2="173.0" y2="191.44" stroke="#231f20" stroke-width="0.8"/>
<line x1="171.20" y1="188.15" x2="173.0" y2="188.15" stroke="#231f20" stroke-width="0.8"/>
<line x1="171.20" y1="184.85" x2="173.0" y2="184.85" stroke="#231f20" stroke-width="0.8"/>
<line x1="171.20" y1="181.56" x2="173.0" y2="181.56" stroke="#231f20" stroke-width="0.8"/>
<line x1="169.80" y1="178.26" x2="173.0" y2="178.26" stroke="#231f20" stroke-width="0.8"/>
<text x="166.7" y="180.70999999999998" font-size="8.6" text-anchor="end" font-weight="normal" fill="#231f20" textLength="8.7" lengthAdjust="spacingAndGlyphs" >60</text>
<line x1="171.20" y1="174.96" x2="173.0" y2="174.96" stroke="#231f20" stroke-width="0.8"/>
<line x1="171.20" y1="171.67" x2="173.0" y2="171.67" stroke="#231f20" stroke-width="0.8"/>
<line x1="171.20" y1="168.37" x2="173.0" y2="168.37" stroke="#231f20" stroke-width="0.8"/>
<line x1="171.20" y1="165.08" x2="173.0" y2="165.08" stroke="#231f20" stroke-width="0.8"/>
<line x1="169.80" y1="161.78" x2="173.0" y2="161.78" stroke="#231f20" stroke-width="0.8"/>
<text x="166.7" y="164.23000000000002" font-size="8.6" text-anchor="end" font-weight="normal" fill="#231f20" textLength="8.7" lengthAdjust="spacingAndGlyphs" >80</text>
<line x1="171.20" y1="158.48" x2="173.0" y2="158.48" stroke="#231f20" stroke-width="0.8"/>
<line x1="171.20" y1="155.19" x2="173.0" y2="155.19" stroke="#231f20" stroke-width="0.8"/>
<line x1="171.20" y1="151.89" x2="173.0" y2="151.89" stroke="#231f20" stroke-width="0.8"/>
<line x1="171.20" y1="148.60" x2="173.0" y2="148.60" stroke="#231f20" stroke-width="0.8"/>
<line x1="169.80" y1="145.30" x2="173.0" y2="145.30" stroke="#231f20" stroke-width="0.8"/>
<text x="166.7" y="147.75" font-size="8.6" text-anchor="end" font-weight="normal" fill="#231f20" textLength="12.7" lengthAdjust="spacingAndGlyphs" >100</text>
<line x1="178.00" y1="227.7" x2="178.00" y2="230.7" stroke="#231f20" stroke-width="0.8"/>
<line x1="190.70" y1="227.7" x2="190.70" y2="230.7" stroke="#231f20" stroke-width="0.8"/>
<line x1="203.50" y1="227.7" x2="203.50" y2="230.7" stroke="#231f20" stroke-width="0.8"/>
<line x1="213.00" y1="227.7" x2="213.00" y2="229.5" stroke="#231f20" stroke-width="0.8"/>
<line x1="218.00" y1="227.7" x2="218.00" y2="229.5" stroke="#231f20" stroke-width="0.8"/>
<line x1="222.00" y1="227.7" x2="222.00" y2="229.5" stroke="#231f20" stroke-width="0.8"/>
<line x1="225.70" y1="227.7" x2="225.70" y2="230.7" stroke="#231f20" stroke-width="0.8"/>
<line x1="233.00" y1="227.7" x2="233.00" y2="229.5" stroke="#231f20" stroke-width="0.8"/>
<line x1="237.00" y1="227.7" x2="237.00" y2="229.5" stroke="#231f20" stroke-width="0.8"/>
<line x1="241.00" y1="227.7" x2="241.00" y2="229.5" stroke="#231f20" stroke-width="0.8"/>
<line x1="245.30" y1="227.7" x2="245.30" y2="230.7" stroke="#231f20" stroke-width="0.8"/>
<line x1="252.00" y1="227.7" x2="252.00" y2="229.5" stroke="#231f20" stroke-width="0.8"/>
<line x1="256.00" y1="227.7" x2="256.00" y2="229.5" stroke="#231f20" stroke-width="0.8"/>
<text x="190.7" y="240.0" font-size="8.0" text-anchor="middle" font-weight="normal" fill="#231f20" >0</text>
<rect x="188.80" y="228.00" width="3.2" height="2.5" fill="#111"/>
<text x="225.7" y="240.0" font-size="7.9" text-anchor="middle" fill="#231f20">10<tspan font-size="5.8" dy="-3.3">4</tspan></text>
<text x="245.3" y="240.0" font-size="7.9" text-anchor="middle" fill="#231f20">10<tspan font-size="5.8" dy="-3.3">5</tspan></text>
<text x="217.5" y="136.3" font-size="9.3" text-anchor="middle" font-weight="normal" fill="#231f20" textLength="21.4" lengthAdjust="spacingAndGlyphs" >TH34</text>
<path d="M307.50,227.90 L311.30,223.50 L314.20,215.80 L316.10,200.40 L317.50,185.00 L318.60,176.30 L320.00,175.40 L320.90,163.80 L322.30,153.80 L323.20,161.90 L324.80,179.20 L326.30,198.50 L328.20,217.70 L330.50,225.40 L332.50,227.90 Z" fill="#cc2850" fill-opacity="0.6" stroke="none"/>
<path d="M307.50,227.90 L311.30,223.50 L314.20,215.80 L316.10,200.40 L317.50,185.00 L318.60,176.30 L320.00,175.40 L320.90,163.80 L322.30,153.80 L323.20,161.90 L324.80,179.20 L326.30,198.50 L328.20,217.70 L330.50,225.40 L332.50,227.90" fill="none" stroke="#cf3a5e" stroke-width="0.75" stroke-linejoin="round"/>
<path d="M335.30,227.90 L339.20,224.40 L343.00,215.80 L345.90,204.20 L347.80,188.80 L349.80,171.50 L351.30,161.90 L353.20,157.70 L354.60,164.80 L355.50,161.90 L357.10,159.00 L358.40,169.60 L359.40,175.40 L360.70,171.50 L361.70,179.20 L362.80,198.50 L364.80,215.80 L367.10,223.50 L370.00,227.90 Z" fill="#326ea0" fill-opacity="0.47" stroke="none"/>
<path d="M335.30,227.90 L339.20,224.40 L343.00,215.80 L345.90,204.20 L347.80,188.80 L349.80,171.50 L351.30,161.90 L353.20,157.70 L354.60,164.80 L355.50,161.90 L357.10,159.00 L358.40,169.60 L359.40,175.40 L360.70,171.50 L361.70,179.20 L362.80,198.50 L364.80,215.80 L367.10,223.50 L370.00,227.90" fill="none" stroke="#3d73a3" stroke-width="0.75" stroke-linejoin="round"/>
<rect x="299.3" y="141.2" width="87.0" height="86.5" fill="none" stroke="#231f20" stroke-width="1.1"/>
<line x1="296.10" y1="227.70" x2="299.3" y2="227.70" stroke="#231f20" stroke-width="0.8"/>
<text x="293.0" y="230.14999999999998" font-size="8.6" text-anchor="end" font-weight="normal" fill="#231f20" textLength="4.4" lengthAdjust="spacingAndGlyphs" >0</text>
<line x1="297.50" y1="224.42" x2="299.3" y2="224.42" stroke="#231f20" stroke-width="0.8"/>
<line x1="297.50" y1="221.13" x2="299.3" y2="221.13" stroke="#231f20" stroke-width="0.8"/>
<line x1="297.50" y1="217.85" x2="299.3" y2="217.85" stroke="#231f20" stroke-width="0.8"/>
<line x1="297.50" y1="214.56" x2="299.3" y2="214.56" stroke="#231f20" stroke-width="0.8"/>
<line x1="296.10" y1="211.28" x2="299.3" y2="211.28" stroke="#231f20" stroke-width="0.8"/>
<text x="293.0" y="213.73" font-size="8.6" text-anchor="end" font-weight="normal" fill="#231f20" textLength="8.7" lengthAdjust="spacingAndGlyphs" >20</text>
<line x1="297.50" y1="208.00" x2="299.3" y2="208.00" stroke="#231f20" stroke-width="0.8"/>
<line x1="297.50" y1="204.71" x2="299.3" y2="204.71" stroke="#231f20" stroke-width="0.8"/>
<line x1="297.50" y1="201.43" x2="299.3" y2="201.43" stroke="#231f20" stroke-width="0.8"/>
<line x1="297.50" y1="198.14" x2="299.3" y2="198.14" stroke="#231f20" stroke-width="0.8"/>
<line x1="296.10" y1="194.86" x2="299.3" y2="194.86" stroke="#231f20" stroke-width="0.8"/>
<text x="293.0" y="197.30999999999997" font-size="8.6" text-anchor="end" font-weight="normal" fill="#231f20" textLength="8.7" lengthAdjust="spacingAndGlyphs" >40</text>
<line x1="297.50" y1="191.58" x2="299.3" y2="191.58" stroke="#231f20" stroke-width="0.8"/>
<line x1="297.50" y1="188.29" x2="299.3" y2="188.29" stroke="#231f20" stroke-width="0.8"/>
<line x1="297.50" y1="185.01" x2="299.3" y2="185.01" stroke="#231f20" stroke-width="0.8"/>
<line x1="297.50" y1="181.72" x2="299.3" y2="181.72" stroke="#231f20" stroke-width="0.8"/>
<line x1="296.10" y1="178.44" x2="299.3" y2="178.44" stroke="#231f20" stroke-width="0.8"/>
<text x="293.0" y="180.89" font-size="8.6" text-anchor="end" font-weight="normal" fill="#231f20" textLength="8.7" lengthAdjust="spacingAndGlyphs" >60</text>
<line x1="297.50" y1="175.16" x2="299.3" y2="175.16" stroke="#231f20" stroke-width="0.8"/>
<line x1="297.50" y1="171.87" x2="299.3" y2="171.87" stroke="#231f20" stroke-width="0.8"/>
<line x1="297.50" y1="168.59" x2="299.3" y2="168.59" stroke="#231f20" stroke-width="0.8"/>
<line x1="297.50" y1="165.30" x2="299.3" y2="165.30" stroke="#231f20" stroke-width="0.8"/>
<line x1="296.10" y1="162.02" x2="299.3" y2="162.02" stroke="#231f20" stroke-width="0.8"/>
<text x="293.0" y="164.46999999999997" font-size="8.6" text-anchor="end" font-weight="normal" fill="#231f20" textLength="8.7" lengthAdjust="spacingAndGlyphs" >80</text>
<line x1="297.50" y1="158.74" x2="299.3" y2="158.74" stroke="#231f20" stroke-width="0.8"/>
<line x1="297.50" y1="155.45" x2="299.3" y2="155.45" stroke="#231f20" stroke-width="0.8"/>
<line x1="297.50" y1="152.17" x2="299.3" y2="152.17" stroke="#231f20" stroke-width="0.8"/>
<line x1="297.50" y1="148.88" x2="299.3" y2="148.88" stroke="#231f20" stroke-width="0.8"/>
<line x1="296.10" y1="145.60" x2="299.3" y2="145.60" stroke="#231f20" stroke-width="0.8"/>
<text x="293.0" y="148.04999999999998" font-size="8.6" text-anchor="end" font-weight="normal" fill="#231f20" textLength="12.7" lengthAdjust="spacingAndGlyphs" >100</text>
<line x1="304.50" y1="227.7" x2="304.50" y2="230.7" stroke="#231f20" stroke-width="0.8"/>
<line x1="317.50" y1="227.7" x2="317.50" y2="230.7" stroke="#231f20" stroke-width="0.8"/>
<line x1="330.50" y1="227.7" x2="330.50" y2="230.7" stroke="#231f20" stroke-width="0.8"/>
<line x1="339.00" y1="227.7" x2="339.00" y2="229.5" stroke="#231f20" stroke-width="0.8"/>
<line x1="344.00" y1="227.7" x2="344.00" y2="229.5" stroke="#231f20" stroke-width="0.8"/>
<line x1="348.00" y1="227.7" x2="348.00" y2="229.5" stroke="#231f20" stroke-width="0.8"/>
<line x1="351.70" y1="227.7" x2="351.70" y2="230.7" stroke="#231f20" stroke-width="0.8"/>
<line x1="359.00" y1="227.7" x2="359.00" y2="229.5" stroke="#231f20" stroke-width="0.8"/>
<line x1="363.00" y1="227.7" x2="363.00" y2="229.5" stroke="#231f20" stroke-width="0.8"/>
<line x1="367.00" y1="227.7" x2="367.00" y2="229.5" stroke="#231f20" stroke-width="0.8"/>
<line x1="371.30" y1="227.7" x2="371.30" y2="230.7" stroke="#231f20" stroke-width="0.8"/>
<line x1="378.00" y1="227.7" x2="378.00" y2="229.5" stroke="#231f20" stroke-width="0.8"/>
<line x1="382.00" y1="227.7" x2="382.00" y2="229.5" stroke="#231f20" stroke-width="0.8"/>
<text x="317.5" y="240.0" font-size="8.0" text-anchor="middle" font-weight="normal" fill="#231f20" >0</text>
<rect x="315.60" y="228.00" width="3.2" height="2.5" fill="#111"/>
<text x="351.7" y="240.0" font-size="7.9" text-anchor="middle" fill="#231f20">10<tspan font-size="5.8" dy="-3.3">4</tspan></text>
<text x="371.3" y="240.0" font-size="7.9" text-anchor="middle" fill="#231f20">10<tspan font-size="5.8" dy="-3.3">5</tspan></text>
<text x="342.1" y="136.3" font-size="9.3" text-anchor="middle" font-weight="normal" fill="#231f20" textLength="22.1" lengthAdjust="spacingAndGlyphs" >TH75</text>
<path d="M439.20,227.20 L440.70,216.60 L442.00,195.50 L443.40,166.60 L444.50,149.30 L445.30,145.80 L446.50,155.10 L447.80,176.20 L449.70,199.30 L451.70,214.70 L453.60,223.30 L456.50,227.20 Z" fill="#cc2850" fill-opacity="0.6" stroke="none"/>
<path d="M439.20,227.20 L440.70,216.60 L442.00,195.50 L443.40,166.60 L444.50,149.30 L445.30,145.80 L446.50,155.10 L447.80,176.20 L449.70,199.30 L451.70,214.70 L453.60,223.30 L456.50,227.20" fill="none" stroke="#cf3a5e" stroke-width="0.75" stroke-linejoin="round"/>
<path d="M482.40,227.20 L484.30,222.40 L486.30,208.90 L488.20,187.80 L490.10,170.50 L492.00,155.10 L494.00,150.80 L495.30,153.20 L496.50,164.70 L497.80,183.90 L499.70,208.90 L501.70,222.40 L503.60,227.20 Z" fill="#326ea0" fill-opacity="0.47" stroke="none"/>
<path d="M482.40,227.20 L484.30,222.40 L486.30,208.90 L488.20,187.80 L490.10,170.50 L492.00,155.10 L494.00,150.80 L495.30,153.20 L496.50,164.70 L497.80,183.90 L499.70,208.90 L501.70,222.40 L503.60,227.20" fill="none" stroke="#3d73a3" stroke-width="0.75" stroke-linejoin="round"/>
<rect x="423.1" y="138.5" width="89.5" height="89.0" fill="none" stroke="#231f20" stroke-width="1.1"/>
<line x1="419.90" y1="227.50" x2="423.1" y2="227.50" stroke="#231f20" stroke-width="0.8"/>
<text x="416.8" y="229.95" font-size="8.6" text-anchor="end" font-weight="normal" fill="#231f20" textLength="4.4" lengthAdjust="spacingAndGlyphs" >0</text>
<line x1="421.30" y1="224.10" x2="423.1" y2="224.10" stroke="#231f20" stroke-width="0.8"/>
<line x1="421.30" y1="220.71" x2="423.1" y2="220.71" stroke="#231f20" stroke-width="0.8"/>
<line x1="421.30" y1="217.31" x2="423.1" y2="217.31" stroke="#231f20" stroke-width="0.8"/>
<line x1="421.30" y1="213.92" x2="423.1" y2="213.92" stroke="#231f20" stroke-width="0.8"/>
<line x1="419.90" y1="210.52" x2="423.1" y2="210.52" stroke="#231f20" stroke-width="0.8"/>
<text x="416.8" y="212.97" font-size="8.6" text-anchor="end" font-weight="normal" fill="#231f20" textLength="8.7" lengthAdjust="spacingAndGlyphs" >20</text>
<line x1="421.30" y1="207.12" x2="423.1" y2="207.12" stroke="#231f20" stroke-width="0.8"/>
<line x1="421.30" y1="203.73" x2="423.1" y2="203.73" stroke="#231f20" stroke-width="0.8"/>
<line x1="421.30" y1="200.33" x2="423.1" y2="200.33" stroke="#231f20" stroke-width="0.8"/>
<line x1="421.30" y1="196.94" x2="423.1" y2="196.94" stroke="#231f20" stroke-width="0.8"/>
<line x1="419.90" y1="193.54" x2="423.1" y2="193.54" stroke="#231f20" stroke-width="0.8"/>
<text x="416.8" y="195.98999999999998" font-size="8.6" text-anchor="end" font-weight="normal" fill="#231f20" textLength="8.7" lengthAdjust="spacingAndGlyphs" >40</text>
<line x1="421.30" y1="190.14" x2="423.1" y2="190.14" stroke="#231f20" stroke-width="0.8"/>
<line x1="421.30" y1="186.75" x2="423.1" y2="186.75" stroke="#231f20" stroke-width="0.8"/>
<line x1="421.30" y1="183.35" x2="423.1" y2="183.35" stroke="#231f20" stroke-width="0.8"/>
<line x1="421.30" y1="179.96" x2="423.1" y2="179.96" stroke="#231f20" stroke-width="0.8"/>
<line x1="419.90" y1="176.56" x2="423.1" y2="176.56" stroke="#231f20" stroke-width="0.8"/>
<text x="416.8" y="179.01" font-size="8.6" text-anchor="end" font-weight="normal" fill="#231f20" textLength="8.7" lengthAdjust="spacingAndGlyphs" >60</text>
<line x1="421.30" y1="173.16" x2="423.1" y2="173.16" stroke="#231f20" stroke-width="0.8"/>
<line x1="421.30" y1="169.77" x2="423.1" y2="169.77" stroke="#231f20" stroke-width="0.8"/>
<line x1="421.30" y1="166.37" x2="423.1" y2="166.37" stroke="#231f20" stroke-width="0.8"/>
<line x1="421.30" y1="162.98" x2="423.1" y2="162.98" stroke="#231f20" stroke-width="0.8"/>
<line x1="419.90" y1="159.58" x2="423.1" y2="159.58" stroke="#231f20" stroke-width="0.8"/>
<text x="416.8" y="162.02999999999997" font-size="8.6" text-anchor="end" font-weight="normal" fill="#231f20" textLength="8.7" lengthAdjust="spacingAndGlyphs" >80</text>
<line x1="421.30" y1="156.18" x2="423.1" y2="156.18" stroke="#231f20" stroke-width="0.8"/>
<line x1="421.30" y1="152.79" x2="423.1" y2="152.79" stroke="#231f20" stroke-width="0.8"/>
<line x1="421.30" y1="149.39" x2="423.1" y2="149.39" stroke="#231f20" stroke-width="0.8"/>
<line x1="421.30" y1="146.00" x2="423.1" y2="146.00" stroke="#231f20" stroke-width="0.8"/>
<line x1="419.90" y1="142.60" x2="423.1" y2="142.60" stroke="#231f20" stroke-width="0.8"/>
<text x="416.8" y="145.04999999999998" font-size="8.6" text-anchor="end" font-weight="normal" fill="#231f20" textLength="12.7" lengthAdjust="spacingAndGlyphs" >100</text>
<line x1="428.00" y1="227.5" x2="428.00" y2="230.5" stroke="#231f20" stroke-width="0.8"/>
<line x1="440.70" y1="227.5" x2="440.70" y2="230.5" stroke="#231f20" stroke-width="0.8"/>
<line x1="453.50" y1="227.5" x2="453.50" y2="230.5" stroke="#231f20" stroke-width="0.8"/>
<line x1="463.00" y1="227.5" x2="463.00" y2="229.3" stroke="#231f20" stroke-width="0.8"/>
<line x1="468.00" y1="227.5" x2="468.00" y2="229.3" stroke="#231f20" stroke-width="0.8"/>
<line x1="472.00" y1="227.5" x2="472.00" y2="229.3" stroke="#231f20" stroke-width="0.8"/>
<line x1="475.70" y1="227.5" x2="475.70" y2="230.5" stroke="#231f20" stroke-width="0.8"/>
<line x1="483.00" y1="227.5" x2="483.00" y2="229.3" stroke="#231f20" stroke-width="0.8"/>
<line x1="487.00" y1="227.5" x2="487.00" y2="229.3" stroke="#231f20" stroke-width="0.8"/>
<line x1="492.00" y1="227.5" x2="492.00" y2="229.3" stroke="#231f20" stroke-width="0.8"/>
<line x1="496.80" y1="227.5" x2="496.80" y2="230.5" stroke="#231f20" stroke-width="0.8"/>
<line x1="504.00" y1="227.5" x2="504.00" y2="229.3" stroke="#231f20" stroke-width="0.8"/>
<line x1="508.00" y1="227.5" x2="508.00" y2="229.3" stroke="#231f20" stroke-width="0.8"/>
<text x="440.7" y="239.8" font-size="8.0" text-anchor="middle" font-weight="normal" fill="#231f20" >0</text>
<rect x="438.80" y="227.80" width="3.2" height="2.5" fill="#111"/>
<text x="475.7" y="239.8" font-size="7.9" text-anchor="middle" fill="#231f20">10<tspan font-size="5.8" dy="-3.3">4</tspan></text>
<text x="496.8" y="239.8" font-size="7.9" text-anchor="middle" fill="#231f20">10<tspan font-size="5.8" dy="-3.3">5</tspan></text>
<text x="469.2" y="135.0" font-size="9.3" text-anchor="middle" font-weight="normal" fill="#231f20" textLength="20.3" lengthAdjust="spacingAndGlyphs" >ETP1</text>
<text x="6.3" y="271.4" font-size="10.8" text-anchor="start" font-weight="bold" fill="#000" >B</text>
<g>
<path d="M147.5,307 C139,306 129,309.5 121.5,317" fill="none" stroke="#e2a49c" stroke-width="1.5" stroke-linecap="round"/>
<path d="M144.8,309 C144,300 150,292.5 158.5,292.2 C167,292 173.5,298 173.3,306 C173.2,313 168,317.2 160,317.2 C151,317.2 145.4,315 144.8,309 Z" fill="#ebe7e6"/>
<path d="M144.8,309 C144,300 150,292.5 158.5,292.2 C156,296 154,302 155.5,310 C156.5,314 158,316 160,317.2 C151,317.2 145.4,315 144.8,309 Z" fill="#dcd6d4"/>
<ellipse cx="155.4" cy="297.3" rx="3.7" ry="4.3" fill="#e8a4a4" stroke="#f0ecea" stroke-width="0.7"/>
<ellipse cx="171.6" cy="297.3" rx="3.5" ry="4.2" fill="#e8a4a4" stroke="#f0ecea" stroke-width="0.7"/>
<ellipse cx="163.4" cy="305.6" rx="7.4" ry="7.2" fill="#f7f5f4"/>
<circle cx="159.9" cy="304.3" r="1.0" fill="#b8282a"/>
<circle cx="166.9" cy="304.3" r="1.0" fill="#b8282a"/>
<ellipse cx="163.3" cy="309.8" rx="1.2" ry="0.9" fill="#e09a9a"/>
<ellipse cx="147.8" cy="313.4" rx="2.4" ry="1.3" fill="#e4a39c"/>
<ellipse cx="156.3" cy="316.4" rx="2.4" ry="1.2" fill="#e4a39c"/>
<ellipse cx="170.2" cy="315.9" rx="2.4" ry="1.2" fill="#e4a39c"/>
</g>
<line x1="97" y1="318.5" x2="460" y2="318.5" stroke="#000" stroke-width="1.15"/>
<path d="M459.2,315.5 L465.6,318.5 L459.2,321.5 Z" fill="#000"/>
<circle cx="97" cy="318.5" r="3.2" fill="#c8102e"/>
<circle cx="195.5" cy="318.5" r="3.2" fill="#c8102e"/>
<circle cx="247.75" cy="318.5" r="3.2" fill="#c8102e"/>
<circle cx="297.75" cy="318.5" r="3.2" fill="#c8102e"/>
<circle cx="348" cy="318.5" r="3.2" fill="#c8102e"/>
<circle cx="397.5" cy="318.5" r="3.2" fill="#c8102e"/>
<circle cx="447.8" cy="318.5" r="3.2" fill="#c8102e"/>
<line x1="97" y1="285" x2="97" y2="307.5" stroke="#1f5a96" stroke-width="1.2"/>
<path d="M94.1,306.4 L99.9,306.4 L97,311.5 Z" fill="#1f5a96"/>
<line x1="195.5" y1="287.5" x2="195.5" y2="308" stroke="#000" stroke-width="1.2"/>
<path d="M192.6,306.9 L198.4,306.9 L195.5,312 Z" fill="#000"/>
<line x1="247.75" y1="285" x2="247.75" y2="307.5" stroke="#1f5a96" stroke-width="1.2"/>
<path d="M244.85,306.4 L250.65,306.4 L247.75,311.5 Z" fill="#1f5a96"/>
<line x1="297.75" y1="288" x2="297.75" y2="308" stroke="#000" stroke-width="1.2"/>
<path d="M294.85,306.9 L300.65,306.9 L297.75,312 Z" fill="#000"/>
<line x1="348" y1="288" x2="348" y2="308" stroke="#000" stroke-width="1.2"/>
<path d="M345.1,306.9 L350.9,306.9 L348,312 Z" fill="#000"/>
<line x1="397.5" y1="288" x2="397.5" y2="308" stroke="#000" stroke-width="1.2"/>
<path d="M394.6,306.9 L400.4,306.9 L397.5,312 Z" fill="#000"/>
<line x1="447.8" y1="288" x2="447.8" y2="308" stroke="#000" stroke-width="1.2"/>
<path d="M444.90000000000003,306.9 L450.7,306.9 L447.8,312 Z" fill="#000"/>
<text x="96.8" y="269.3" font-size="9.0" text-anchor="middle" font-weight="normal" fill="#231f20" textLength="57.5" lengthAdjust="spacingAndGlyphs" >Primary T-ALL</text>
<text x="97.1" y="281" font-size="9.0" text-anchor="middle" font-weight="normal" fill="#231f20" textLength="35.4" lengthAdjust="spacingAndGlyphs" >injection</text>
<text x="196" y="269.3" font-size="9.0" text-anchor="middle" font-weight="normal" fill="#231f20" textLength="12.8" lengthAdjust="spacingAndGlyphs" >BLI</text>
<text x="195.6" y="281" font-size="9.0" text-anchor="middle" font-weight="normal" fill="#231f20" textLength="52.6" lengthAdjust="spacingAndGlyphs" >engraftment</text>
<text x="247.7" y="269.3" font-size="9.0" text-anchor="middle" font-weight="normal" fill="#231f20" textLength="56" lengthAdjust="spacingAndGlyphs" >7CAR8, UTD,</text>
<text x="247.8" y="281" font-size="9.0" text-anchor="middle" font-weight="normal" fill="#231f20" textLength="28" lengthAdjust="spacingAndGlyphs" >or PBS</text>
<text x="297.75" y="281" font-size="9.0" text-anchor="middle" font-weight="normal" fill="#231f20" textLength="12.8" lengthAdjust="spacingAndGlyphs" >BLI</text>
<text x="348" y="281" font-size="9.0" text-anchor="middle" font-weight="normal" fill="#231f20" textLength="12.8" lengthAdjust="spacingAndGlyphs" >BLI</text>
<text x="397.5" y="281" font-size="9.0" text-anchor="middle" font-weight="normal" fill="#231f20" textLength="12.8" lengthAdjust="spacingAndGlyphs" >BLI</text>
<text x="447.8" y="281" font-size="9.0" text-anchor="middle" font-weight="normal" fill="#231f20" textLength="12.8" lengthAdjust="spacingAndGlyphs" >BLI</text>
<text x="96.9" y="335.1" font-size="9.3" text-anchor="middle" font-weight="normal" fill="#231f20" textLength="58.5" lengthAdjust="spacingAndGlyphs" >Day &#8211;7 to &#8211;28</text>
<text x="194.2" y="335.1" font-size="9.3" text-anchor="middle" font-weight="normal" fill="#231f20" >&#8211;1</text>
<text x="248" y="335.1" font-size="9.3" text-anchor="middle" font-weight="normal" fill="#231f20" >0</text>
<text x="297.75" y="335.1" font-size="9.3" text-anchor="middle" font-weight="normal" fill="#231f20" >7</text>
<text x="348" y="335.1" font-size="9.3" text-anchor="middle" font-weight="normal" fill="#231f20" >14</text>
<text x="397.5" y="335.1" font-size="9.3" text-anchor="middle" font-weight="normal" fill="#231f20" >21</text>
<text x="447.8" y="335.1" font-size="9.3" text-anchor="middle" font-weight="normal" fill="#231f20" >28</text>
<text x="6.3" y="359.6" font-size="10.8" text-anchor="start" font-weight="bold" fill="#000" >C</text>
<line x1="38.1" y1="355" x2="38.1" y2="451.5" stroke="#231f20" stroke-width="1.35"/>
<line x1="38.1" y1="451.5" x2="195.5" y2="451.5" stroke="#231f20" stroke-width="1.35"/>
<line x1="35.1" y1="358.80" x2="38.1" y2="358.80" stroke="#231f20" stroke-width="0.9"/>
<g transform="translate(32.50,362.30) scale(0.9,1)"><text x="0" y="0" font-size="8.1" text-anchor="end" fill="#231f20">10<tspan font-size="5.4" dy="-3.9">9</tspan></text></g>
<line x1="35.1" y1="381.97" x2="38.1" y2="381.97" stroke="#231f20" stroke-width="0.9"/>
<g transform="translate(32.50,385.47) scale(0.9,1)"><text x="0" y="0" font-size="8.1" text-anchor="end" fill="#231f20">10<tspan font-size="5.4" dy="-3.9">8</tspan></text></g>
<line x1="35.1" y1="405.14" x2="38.1" y2="405.14" stroke="#231f20" stroke-width="0.9"/>
<g transform="translate(32.50,408.64) scale(0.9,1)"><text x="0" y="0" font-size="8.1" text-anchor="end" fill="#231f20">10<tspan font-size="5.4" dy="-3.9">7</tspan></text></g>
<line x1="35.1" y1="428.31" x2="38.1" y2="428.31" stroke="#231f20" stroke-width="0.9"/>
<g transform="translate(32.50,431.81) scale(0.9,1)"><text x="0" y="0" font-size="8.1" text-anchor="end" fill="#231f20">10<tspan font-size="5.4" dy="-3.9">6</tspan></text></g>
<line x1="35.1" y1="451.48" x2="38.1" y2="451.48" stroke="#231f20" stroke-width="0.9"/>
<g transform="translate(32.50,454.98) scale(0.9,1)"><text x="0" y="0" font-size="8.1" text-anchor="end" fill="#231f20">10<tspan font-size="5.4" dy="-3.9">5</tspan></text></g>
<line x1="38.10" y1="451.5" x2="38.10" y2="454.5" stroke="#231f20" stroke-width="0.9"/>
<line x1="88.30" y1="451.5" x2="88.30" y2="454.5" stroke="#231f20" stroke-width="0.9"/>
<line x1="138.50" y1="451.5" x2="138.50" y2="454.5" stroke="#231f20" stroke-width="0.9"/>
<line x1="188.70" y1="451.5" x2="188.70" y2="454.5" stroke="#231f20" stroke-width="0.9"/>
<text x="38.1" y="463.9" font-size="8.6" text-anchor="middle" font-weight="normal" fill="#231f20" textLength="4.4" lengthAdjust="spacingAndGlyphs" >0</text>
<text x="138.5" y="463.9" font-size="8.6" text-anchor="middle" font-weight="normal" fill="#231f20" textLength="8.7" lengthAdjust="spacingAndGlyphs" >20</text>
<text x="188.7" y="463.9" font-size="8.6" text-anchor="middle" font-weight="normal" fill="#231f20" textLength="8.7" lengthAdjust="spacingAndGlyphs" >30</text>
<line x1="88.1" y1="359" x2="88.1" y2="451.5" stroke="#3a3a3a" stroke-width="0.9" stroke-dasharray="2.6,1.5"/>
<line x1="93.4" y1="359" x2="93.4" y2="451.5" stroke="#3a3a3a" stroke-width="0.9" stroke-dasharray="2.6,1.5"/>
<path d="M88.3,451.5 L85.8,456.6 M93.2,451.5 L95.4,456.6" stroke="#231f20" stroke-width="0.7" fill="none"/>
<text x="66.1" y="463.6" font-size="6.8" text-anchor="middle" font-weight="normal" fill="#333" textLength="38.8" lengthAdjust="spacingAndGlyphs" >Randomization</text>
<text x="107.4" y="463.8" font-size="6.8" text-anchor="middle" font-weight="normal" fill="#333" textLength="26" lengthAdjust="spacingAndGlyphs" >Treatment</text>
<text x="116.5" y="474.9" font-size="9.2" text-anchor="middle" font-weight="normal" fill="#231f20" textLength="32.3" lengthAdjust="spacingAndGlyphs" stroke="#231f20" stroke-width="0.1">Study day</text>
<text transform="translate(14.5,403.2) rotate(-90)" font-size="9" text-anchor="middle" fill="#231f20" textLength="46.8" lengthAdjust="spacingAndGlyphs" stroke="#231f20" stroke-width="0.12">Total flux (p/s)</text>
<polyline points="38.1,423.9 68.3,430.0 103.1,431.0 133.8,427.8 164.3,426.6" fill="none" stroke="#3cb64a" stroke-width="1.2"/>
<path d="M35.9,425.5 L40.300000000000004,425.5 L38.1,421.7 Z" fill="#3cb64a"/>
<path d="M68.3,429.4 V430.6 M66.7,429.4 H69.89999999999999 M66.7,430.6 H69.89999999999999" stroke="#3cb64a" stroke-width="0.9" fill="none"/>
<path d="M66.1,431.6 L70.5,431.6 L68.3,427.8 Z" fill="#3cb64a"/>
<path d="M103.1,429.8 V432.2 M101.5,429.8 H104.69999999999999 M101.5,432.2 H104.69999999999999" stroke="#3cb64a" stroke-width="0.9" fill="none"/>
<path d="M100.89999999999999,432.6 L105.3,432.6 L103.1,428.8 Z" fill="#3cb64a"/>
<path d="M133.8,426.6 V429.0 M132.20000000000002,426.6 H135.4 M132.20000000000002,429.0 H135.4" stroke="#3cb64a" stroke-width="0.9" fill="none"/>
<path d="M131.60000000000002,429.40000000000003 L136.0,429.40000000000003 L133.8,425.6 Z" fill="#3cb64a"/>
<path d="M164.3,424.0 V429.20000000000005 M162.70000000000002,424.0 H165.9 M162.70000000000002,429.20000000000005 H165.9" stroke="#3cb64a" stroke-width="0.9" fill="none"/>
<path d="M162.10000000000002,428.20000000000005 L166.5,428.20000000000005 L164.3,424.40000000000003 Z" fill="#3cb64a"/>
<polyline points="38.1,423.9 68.3,429.3 103.1,427.1 133.8,425.5 164.3,419.2" fill="none" stroke="#1f5896" stroke-width="1.2"/>
<circle cx="38.1" cy="423.9" r="2.1" fill="#1f5896"/>
<path d="M68.3,428.5 V430.1 M66.7,428.5 H69.89999999999999 M66.7,430.1 H69.89999999999999" stroke="#1f5896" stroke-width="0.9" fill="none"/>
<circle cx="68.3" cy="429.3" r="2.1" fill="#1f5896"/>
<path d="M103.1,425.90000000000003 V428.3 M101.5,425.90000000000003 H104.69999999999999 M101.5,428.3 H104.69999999999999" stroke="#1f5896" stroke-width="0.9" fill="none"/>
<circle cx="103.1" cy="427.1" r="2.1" fill="#1f5896"/>
<path d="M133.8,424.3 V426.7 M132.20000000000002,424.3 H135.4 M132.20000000000002,426.7 H135.4" stroke="#1f5896" stroke-width="0.9" fill="none"/>
<circle cx="133.8" cy="425.5" r="2.1" fill="#1f5896"/>
<path d="M164.3,415.59999999999997 V422.8 M162.70000000000002,415.59999999999997 H165.9 M162.70000000000002,422.8 H165.9" stroke="#1f5896" stroke-width="0.9" fill="none"/>
<circle cx="164.3" cy="419.2" r="2.1" fill="#1f5896"/>
<polyline points="38.1,423.9 68.3,422.8 103.1,412.7 133.8,401.9 164.3,389.6" fill="none" stroke="#d2143e" stroke-width="1.2"/>
<rect x="35.9" y="421.7" width="4.4" height="4.4" fill="#d2143e"/>
<path d="M68.3,422.0 V423.6 M66.7,422.0 H69.89999999999999 M66.7,423.6 H69.89999999999999" stroke="#d2143e" stroke-width="0.9" fill="none"/>
<rect x="66.1" y="420.6" width="4.4" height="4.4" fill="#d2143e"/>
<path d="M103.1,410.7 V414.7 M101.5,410.7 H104.69999999999999 M101.5,414.7 H104.69999999999999" stroke="#d2143e" stroke-width="0.9" fill="none"/>
<rect x="100.89999999999999" y="410.5" width="4.4" height="4.4" fill="#d2143e"/>
<path d="M133.8,399.29999999999995 V404.5 M132.20000000000002,399.29999999999995 H135.4 M132.20000000000002,404.5 H135.4" stroke="#d2143e" stroke-width="0.9" fill="none"/>
<rect x="131.60000000000002" y="399.7" width="4.4" height="4.4" fill="#d2143e"/>
<path d="M164.3,384.6 V394.6 M162.70000000000002,384.6 H165.9 M162.70000000000002,394.6 H165.9" stroke="#d2143e" stroke-width="0.9" fill="none"/>
<rect x="162.10000000000002" y="387.40000000000003" width="4.4" height="4.4" fill="#d2143e"/>
<line x1="188.9" y1="385.7" x2="199.3" y2="385.7" stroke="#d2143e" stroke-width="1.2"/>
<rect x="192.2" y="383.7" width="4" height="4" fill="#d2143e"/>
<text x="203" y="388.3" font-size="7.3" fill="#231f20" textLength="18" lengthAdjust="spacingAndGlyphs">DPBS</text>
<line x1="188.9" y1="394.6" x2="199.3" y2="394.6" stroke="#1f5896" stroke-width="1.2"/>
<circle cx="194.2" cy="394.6" r="2.1" fill="#1f5896"/>
<text x="203" y="397.20000000000005" font-size="7.3" fill="#231f20" textLength="44.6" lengthAdjust="spacingAndGlyphs">7CAR8 1&#215;10<tspan font-size="4.6" dy="-2.8">6</tspan></text>
<line x1="188.9" y1="404.2" x2="199.3" y2="404.2" stroke="#3cb64a" stroke-width="1.2"/>
<path d="M192.0,405.8 L196.39999999999998,405.8 L194.2,402.0 Z" fill="#3cb64a"/>
<text x="203" y="406.8" font-size="7.3" fill="#231f20" textLength="44.6" lengthAdjust="spacingAndGlyphs">7CAR8 5&#215;10<tspan font-size="4.6" dy="-2.8">6</tspan></text>
<defs>
<pattern id="stripes" width="6" height="20" patternUnits="userSpaceOnUse" x="282.8"><rect width="6" height="20" fill="#2e2e2e"/><rect x="0" width="1.2" height="20" fill="#474747"/><rect x="3.2" width="1" height="20" fill="#3d3d3d"/></pattern>
<linearGradient id="lowbg" x1="0" x2="0" y1="0" y2="1"><stop offset="0" stop-color="#333"/><stop offset="0.25" stop-color="#3e3e3e"/><stop offset="1" stop-color="#414141"/></linearGradient>
<linearGradient id="mshade" x1="0" x2="0" y1="0" y2="1"><stop offset="0" stop-color="#777" stop-opacity="0.55"/><stop offset="0.14" stop-color="#888" stop-opacity="0.35"/><stop offset="0.26" stop-color="#999" stop-opacity="0"/><stop offset="0.9" stop-color="#999" stop-opacity="0"/><stop offset="1" stop-color="#888" stop-opacity="0.3"/></linearGradient>
<radialGradient id="mfur" cx="0.5" cy="0.62" r="0.68"><stop offset="0" stop-color="#f6f6f6"/><stop offset="0.6" stop-color="#ededed"/><stop offset="0.86" stop-color="#dadada"/><stop offset="1" stop-color="#c0c0c0"/></radialGradient>
<radialGradient id="hotspot" cx="0.5" cy="0.5" r="0.5"><stop offset="0" stop-color="#e02020"/><stop offset="0.3" stop-color="#f0d020"/><stop offset="0.55" stop-color="#30c040"/><stop offset="0.8" stop-color="#2050e0"/><stop offset="1" stop-color="#6030c0" stop-opacity="0.5"/></radialGradient>
<radialGradient id="gspot" cx="0.5" cy="0.5" r="0.5"><stop offset="0" stop-color="#c8d820"/><stop offset="0.35" stop-color="#40c040"/><stop offset="0.7" stop-color="#2060e0"/><stop offset="1" stop-color="#5030c0" stop-opacity="0.4"/></radialGradient>
<radialGradient id="cspot" cx="0.5" cy="0.5" r="0.5"><stop offset="0" stop-color="#60d8d0"/><stop offset="0.5" stop-color="#30b0e8"/><stop offset="1" stop-color="#3a40cc" stop-opacity="0"/></radialGradient>
<radialGradient id="gspot2" cx="0.5" cy="0.5" r="0.5"><stop offset="0" stop-color="#58b830"/><stop offset="0.5" stop-color="#48c048"/><stop offset="0.75" stop-color="#30b8e0"/><stop offset="1" stop-color="#3a40cc" stop-opacity="0"/></radialGradient>
<radialGradient id="blimouse" cx="0.5" cy="0.5" r="0.6"><stop offset="0" stop-color="#4250da"/><stop offset="0.75" stop-color="#3e48d2"/><stop offset="1" stop-color="#7058cc"/></radialGradient>
<filter id="blur1" x="-20%" y="-20%" width="140%" height="140%"><feGaussianBlur stdDeviation="0.5"/></filter>
<filter id="furtex" x="0" y="0" width="100%" height="100%"><feTurbulence type="fractalNoise" baseFrequency="0.2" numOctaves="3" seed="7" result="t"/><feColorMatrix in="t" type="matrix" values="0 0 0 0 0.45  0 0 0 0 0.45  0 0 0 0 0.45  1.6 0 0 0 -0.7" result="d"/><feGaussianBlur in="d" stdDeviation="0.4" result="b"/><feComposite in="b" in2="SourceAlpha" operator="in"/></filter>
<filter id="blur2" x="-20%" y="-20%" width="140%" height="140%"><feGaussianBlur stdDeviation="1.2"/></filter>
</defs>
<rect x="282.8" y="360.2" width="89.59999999999997" height="104.4" fill="url(#stripes)"/>
<rect x="282.8" y="427" width="89.59999999999997" height="37.6" fill="url(#lowbg)" opacity="0.93"/>
<rect x="282.8" y="360.2" width="1.3" height="104.4" fill="#262626"/>
<rect x="371.09999999999997" y="360.2" width="1.3" height="104.4" fill="#262626"/>
<rect x="377.4" y="360.2" width="89.40000000000003" height="104.4" fill="url(#stripes)"/>
<rect x="377.4" y="427" width="89.40000000000003" height="37.6" fill="url(#lowbg)" opacity="0.93"/>
<rect x="377.4" y="360.2" width="1.3" height="104.4" fill="#262626"/>
<rect x="465.5" y="360.2" width="1.3" height="104.4" fill="#262626"/>
<path d="M299.00,427.7 C299.00,439.7 301.0,445.7 301.0,464.6" stroke="#bcbcbc" stroke-width="1.9" fill="none"/>
<ellipse cx="287.27" cy="426.20" rx="3.2" ry="1.5" fill="#9c9c9c"/>
<ellipse cx="310.73" cy="426.20" rx="3.2" ry="1.5" fill="#9c9c9c"/>
<path d="M299.97,361.10 C300.70,361.10 300.73,362.96 301.21,364.19 C301.69,365.41 301.81,366.70 302.86,368.44 C303.92,370.18 306.54,372.53 307.56,374.61 C308.57,376.70 308.61,378.67 308.94,380.93 C309.26,383.18 309.12,385.88 309.49,388.13 C309.86,390.38 310.66,391.65 311.14,394.44 C311.63,397.23 312.11,401.39 312.39,404.87 C312.66,408.34 312.85,412.53 312.80,415.29 C312.75,418.06 312.62,419.64 312.11,421.47 C311.60,423.30 311.26,424.90 309.76,426.27 C308.27,427.64 306.73,429.70 303.14,429.70 C299.55,429.70 291.11,427.64 288.24,426.27 C285.36,424.90 286.40,423.30 285.89,421.47 C285.38,419.64 285.25,418.06 285.20,415.29 C285.15,412.53 285.34,408.34 285.61,404.87 C285.89,401.39 286.37,397.23 286.86,394.44 C287.34,391.65 288.14,390.38 288.51,388.13 C288.88,385.88 288.74,383.18 289.06,380.93 C289.39,378.67 289.43,376.70 290.44,374.61 C291.46,372.53 294.08,370.18 295.14,368.44 C296.19,366.70 295.99,365.41 296.79,364.19 C297.60,362.96 299.23,361.10 299.97,361.10 Z" fill="url(#mfur)"/>
<path d="M299.97,361.10 C300.70,361.10 300.73,362.96 301.21,364.19 C301.69,365.41 301.81,366.70 302.86,368.44 C303.92,370.18 306.54,372.53 307.56,374.61 C308.57,376.70 308.61,378.67 308.94,380.93 C309.26,383.18 309.12,385.88 309.49,388.13 C309.86,390.38 310.66,391.65 311.14,394.44 C311.63,397.23 312.11,401.39 312.39,404.87 C312.66,408.34 312.85,412.53 312.80,415.29 C312.75,418.06 312.62,419.64 312.11,421.47 C311.60,423.30 311.26,424.90 309.76,426.27 C308.27,427.64 306.73,429.70 303.14,429.70 C299.55,429.70 291.11,427.64 288.24,426.27 C285.36,424.90 286.40,423.30 285.89,421.47 C285.38,419.64 285.25,418.06 285.20,415.29 C285.15,412.53 285.34,408.34 285.61,404.87 C285.89,401.39 286.37,397.23 286.86,394.44 C287.34,391.65 288.14,390.38 288.51,388.13 C288.88,385.88 288.74,383.18 289.06,380.93 C289.39,378.67 289.43,376.70 290.44,374.61 C291.46,372.53 294.08,370.18 295.14,368.44 C296.19,366.70 295.99,365.41 296.79,364.19 C297.60,362.96 299.23,361.10 299.97,361.10 Z" fill="url(#mshade)"/>
<path d="M299.97,361.10 C300.70,361.10 300.73,362.96 301.21,364.19 C301.69,365.41 301.81,366.70 302.86,368.44 C303.92,370.18 306.54,372.53 307.56,374.61 C308.57,376.70 308.61,378.67 308.94,380.93 C309.26,383.18 309.12,385.88 309.49,388.13 C309.86,390.38 310.66,391.65 311.14,394.44 C311.63,397.23 312.11,401.39 312.39,404.87 C312.66,408.34 312.85,412.53 312.80,415.29 C312.75,418.06 312.62,419.64 312.11,421.47 C311.60,423.30 311.26,424.90 309.76,426.27 C308.27,427.64 306.73,429.70 303.14,429.70 C299.55,429.70 291.11,427.64 288.24,426.27 C285.36,424.90 286.40,423.30 285.89,421.47 C285.38,419.64 285.25,418.06 285.20,415.29 C285.15,412.53 285.34,408.34 285.61,404.87 C285.89,401.39 286.37,397.23 286.86,394.44 C287.34,391.65 288.14,390.38 288.51,388.13 C288.88,385.88 288.74,383.18 289.06,380.93 C289.39,378.67 289.43,376.70 290.44,374.61 C291.46,372.53 294.08,370.18 295.14,368.44 C296.19,366.70 295.99,365.41 296.79,364.19 C297.60,362.96 299.23,361.10 299.97,361.10 Z" fill="#fff" filter="url(#furtex)" opacity="0.7"/>
<path d="M299.97,361.10 C300.70,361.10 300.73,362.96 301.21,364.19 C301.69,365.41 301.81,366.70 302.86,368.44 C303.92,370.18 306.54,372.53 307.56,374.61 C308.57,376.70 308.61,378.67 308.94,380.93 C309.26,383.18 309.12,385.88 309.49,388.13 C309.86,390.38 310.66,391.65 311.14,394.44 C311.63,397.23 312.11,401.39 312.39,404.87 C312.66,408.34 312.85,412.53 312.80,415.29 C312.75,418.06 312.62,419.64 312.11,421.47 C311.60,423.30 311.26,424.90 309.76,426.27 C308.27,427.64 306.73,429.70 303.14,429.70 C299.55,429.70 291.11,427.64 288.24,426.27 C285.36,424.90 286.40,423.30 285.89,421.47 C285.38,419.64 285.25,418.06 285.20,415.29 C285.15,412.53 285.34,408.34 285.61,404.87 C285.89,401.39 286.37,397.23 286.86,394.44 C287.34,391.65 288.14,390.38 288.51,388.13 C288.88,385.88 288.74,383.18 289.06,380.93 C289.39,378.67 289.43,376.70 290.44,374.61 C291.46,372.53 294.08,370.18 295.14,368.44 C296.19,366.70 295.99,365.41 296.79,364.19 C297.60,362.96 299.23,361.10 299.97,361.10 Z" fill="none" stroke="#a0a0a0" stroke-width="1.4" opacity="0.6" filter="url(#blur1)"/>
<ellipse cx="293.48" cy="391.97" rx="4" ry="6" fill="#8a8a8a" opacity="0.12" filter="url(#blur2)"/>
<ellipse cx="305.21" cy="402.26" rx="3.5" ry="7" fill="#8a8a8a" opacity="0.1" filter="url(#blur2)"/>
<ellipse cx="299.00" cy="381.68" rx="5" ry="3" fill="#8a8a8a" opacity="0.12" filter="url(#blur2)"/>
<ellipse cx="296.24" cy="412.55" rx="3" ry="4" fill="#8a8a8a" opacity="0.08" filter="url(#blur2)"/>
<ellipse cx="293.76" cy="380.99" rx="2.2" ry="1.3" fill="#9a9a9a" filter="url(#blur1)"/>
<ellipse cx="304.24" cy="380.31" rx="2.2" ry="1.3" fill="#9a9a9a" filter="url(#blur1)"/>
<ellipse cx="299.00" cy="424.90" rx="1.8" ry="1.2" fill="#b0b0b0" filter="url(#blur1)"/>
<path d="M327.60,426.5 C327.60,438.5 326.2,444.5 326.2,464.6" stroke="#bcbcbc" stroke-width="1.9" fill="none"/>
<ellipse cx="316.89" cy="425.00" rx="3.2" ry="1.5" fill="#9c9c9c"/>
<ellipse cx="338.31" cy="425.00" rx="3.2" ry="1.5" fill="#9c9c9c"/>
<path d="M328.48,361.00 C329.15,361.00 329.18,362.83 329.62,364.04 C330.06,365.24 330.16,366.51 331.13,368.22 C332.09,369.93 334.49,372.25 335.41,374.30 C336.34,376.35 336.38,378.29 336.67,380.51 C336.97,382.72 336.84,385.38 337.18,387.60 C337.51,389.81 338.25,391.06 338.69,393.81 C339.13,396.55 339.57,400.64 339.82,404.06 C340.07,407.49 340.24,411.60 340.20,414.32 C340.16,417.05 340.03,418.60 339.57,420.40 C339.11,422.20 338.79,423.77 337.43,425.12 C336.06,426.48 334.66,428.50 331.38,428.50 C328.10,428.50 320.40,426.48 317.77,425.12 C315.15,423.77 316.09,422.20 315.63,420.40 C315.17,418.60 315.04,417.05 315.00,414.32 C314.96,411.60 315.13,407.49 315.38,404.06 C315.63,400.64 316.07,396.55 316.51,393.81 C316.95,391.06 317.69,389.81 318.02,387.60 C318.36,385.38 318.23,382.72 318.53,380.51 C318.82,378.29 318.86,376.35 319.79,374.30 C320.71,372.25 323.11,369.93 324.07,368.22 C325.04,366.51 324.85,365.24 325.58,364.04 C326.32,362.83 327.81,361.00 328.48,361.00 Z" fill="url(#mfur)"/>
<path d="M328.48,361.00 C329.15,361.00 329.18,362.83 329.62,364.04 C330.06,365.24 330.16,366.51 331.13,368.22 C332.09,369.93 334.49,372.25 335.41,374.30 C336.34,376.35 336.38,378.29 336.67,380.51 C336.97,382.72 336.84,385.38 337.18,387.60 C337.51,389.81 338.25,391.06 338.69,393.81 C339.13,396.55 339.57,400.64 339.82,404.06 C340.07,407.49 340.24,411.60 340.20,414.32 C340.16,417.05 340.03,418.60 339.57,420.40 C339.11,422.20 338.79,423.77 337.43,425.12 C336.06,426.48 334.66,428.50 331.38,428.50 C328.10,428.50 320.40,426.48 317.77,425.12 C315.15,423.77 316.09,422.20 315.63,420.40 C315.17,418.60 315.04,417.05 315.00,414.32 C314.96,411.60 315.13,407.49 315.38,404.06 C315.63,400.64 316.07,396.55 316.51,393.81 C316.95,391.06 317.69,389.81 318.02,387.60 C318.36,385.38 318.23,382.72 318.53,380.51 C318.82,378.29 318.86,376.35 319.79,374.30 C320.71,372.25 323.11,369.93 324.07,368.22 C325.04,366.51 324.85,365.24 325.58,364.04 C326.32,362.83 327.81,361.00 328.48,361.00 Z" fill="url(#mshade)"/>
<path d="M328.48,361.00 C329.15,361.00 329.18,362.83 329.62,364.04 C330.06,365.24 330.16,366.51 331.13,368.22 C332.09,369.93 334.49,372.25 335.41,374.30 C336.34,376.35 336.38,378.29 336.67,380.51 C336.97,382.72 336.84,385.38 337.18,387.60 C337.51,389.81 338.25,391.06 338.69,393.81 C339.13,396.55 339.57,400.64 339.82,404.06 C340.07,407.49 340.24,411.60 340.20,414.32 C340.16,417.05 340.03,418.60 339.57,420.40 C339.11,422.20 338.79,423.77 337.43,425.12 C336.06,426.48 334.66,428.50 331.38,428.50 C328.10,428.50 320.40,426.48 317.77,425.12 C315.15,423.77 316.09,422.20 315.63,420.40 C315.17,418.60 315.04,417.05 315.00,414.32 C314.96,411.60 315.13,407.49 315.38,404.06 C315.63,400.64 316.07,396.55 316.51,393.81 C316.95,391.06 317.69,389.81 318.02,387.60 C318.36,385.38 318.23,382.72 318.53,380.51 C318.82,378.29 318.86,376.35 319.79,374.30 C320.71,372.25 323.11,369.93 324.07,368.22 C325.04,366.51 324.85,365.24 325.58,364.04 C326.32,362.83 327.81,361.00 328.48,361.00 Z" fill="#fff" filter="url(#furtex)" opacity="0.7"/>
<path d="M328.48,361.00 C329.15,361.00 329.18,362.83 329.62,364.04 C330.06,365.24 330.16,366.51 331.13,368.22 C332.09,369.93 334.49,372.25 335.41,374.30 C336.34,376.35 336.38,378.29 336.67,380.51 C336.97,382.72 336.84,385.38 337.18,387.60 C337.51,389.81 338.25,391.06 338.69,393.81 C339.13,396.55 339.57,400.64 339.82,404.06 C340.07,407.49 340.24,411.60 340.20,414.32 C340.16,417.05 340.03,418.60 339.57,420.40 C339.11,422.20 338.79,423.77 337.43,425.12 C336.06,426.48 334.66,428.50 331.38,428.50 C328.10,428.50 320.40,426.48 317.77,425.12 C315.15,423.77 316.09,422.20 315.63,420.40 C315.17,418.60 315.04,417.05 315.00,414.32 C314.96,411.60 315.13,407.49 315.38,404.06 C315.63,400.64 316.07,396.55 316.51,393.81 C316.95,391.06 317.69,389.81 318.02,387.60 C318.36,385.38 318.23,382.72 318.53,380.51 C318.82,378.29 318.86,376.35 319.79,374.30 C320.71,372.25 323.11,369.93 324.07,368.22 C325.04,366.51 324.85,365.24 325.58,364.04 C326.32,362.83 327.81,361.00 328.48,361.00 Z" fill="none" stroke="#a0a0a0" stroke-width="1.4" opacity="0.6" filter="url(#blur1)"/>
<ellipse cx="322.56" cy="391.38" rx="4" ry="6" fill="#8a8a8a" opacity="0.12" filter="url(#blur2)"/>
<ellipse cx="333.27" cy="401.50" rx="3.5" ry="7" fill="#8a8a8a" opacity="0.1" filter="url(#blur2)"/>
<ellipse cx="327.60" cy="381.25" rx="5" ry="3" fill="#8a8a8a" opacity="0.12" filter="url(#blur2)"/>
<ellipse cx="325.08" cy="411.62" rx="3" ry="4" fill="#8a8a8a" opacity="0.08" filter="url(#blur2)"/>
<ellipse cx="322.81" cy="380.57" rx="2.2" ry="1.3" fill="#9a9a9a" filter="url(#blur1)"/>
<ellipse cx="332.39" cy="379.90" rx="2.2" ry="1.3" fill="#9a9a9a" filter="url(#blur1)"/>
<ellipse cx="327.60" cy="423.77" rx="1.8" ry="1.2" fill="#b0b0b0" filter="url(#blur1)"/>
<path d="M352.40,424.0 C352.40,436.0 355.5,442.0 355.5,464.6" stroke="#bcbcbc" stroke-width="1.9" fill="none"/>
<ellipse cx="342.69" cy="422.50" rx="3.2" ry="1.5" fill="#9c9c9c"/>
<ellipse cx="364.11" cy="422.50" rx="3.2" ry="1.5" fill="#9c9c9c"/>
<path d="M354.28,361.00 C354.95,361.00 354.95,362.77 355.37,363.93 C355.79,365.08 355.88,366.31 356.82,367.95 C357.76,369.60 360.12,371.83 361.01,373.81 C361.91,375.78 361.92,377.65 362.18,379.79 C362.44,381.92 362.28,384.48 362.58,386.61 C362.89,388.74 363.60,389.95 364.00,392.59 C364.40,395.23 364.78,399.18 364.98,402.47 C365.19,405.76 365.29,409.73 365.21,412.35 C365.13,414.97 364.98,416.47 364.49,418.20 C364.00,419.93 363.66,421.45 362.28,422.75 C360.89,424.05 359.46,426.00 356.18,426.00 C352.90,426.00 345.23,424.05 342.62,422.75 C340.02,421.45 340.99,419.93 340.55,418.20 C340.11,416.47 340.01,414.97 340.01,412.35 C340.01,409.73 340.24,405.76 340.54,402.47 C340.84,399.18 341.34,395.23 341.83,392.59 C342.31,389.95 343.06,388.74 343.43,386.61 C343.80,384.48 343.71,381.92 344.04,379.79 C344.37,377.65 344.44,375.78 345.39,373.81 C346.35,371.83 348.77,369.60 349.76,367.95 C350.76,366.31 350.59,365.08 351.34,363.93 C352.09,362.77 353.61,361.00 354.28,361.00 Z" fill="url(#mfur)"/>
<path d="M354.28,361.00 C354.95,361.00 354.95,362.77 355.37,363.93 C355.79,365.08 355.88,366.31 356.82,367.95 C357.76,369.60 360.12,371.83 361.01,373.81 C361.91,375.78 361.92,377.65 362.18,379.79 C362.44,381.92 362.28,384.48 362.58,386.61 C362.89,388.74 363.60,389.95 364.00,392.59 C364.40,395.23 364.78,399.18 364.98,402.47 C365.19,405.76 365.29,409.73 365.21,412.35 C365.13,414.97 364.98,416.47 364.49,418.20 C364.00,419.93 363.66,421.45 362.28,422.75 C360.89,424.05 359.46,426.00 356.18,426.00 C352.90,426.00 345.23,424.05 342.62,422.75 C340.02,421.45 340.99,419.93 340.55,418.20 C340.11,416.47 340.01,414.97 340.01,412.35 C340.01,409.73 340.24,405.76 340.54,402.47 C340.84,399.18 341.34,395.23 341.83,392.59 C342.31,389.95 343.06,388.74 343.43,386.61 C343.80,384.48 343.71,381.92 344.04,379.79 C344.37,377.65 344.44,375.78 345.39,373.81 C346.35,371.83 348.77,369.60 349.76,367.95 C350.76,366.31 350.59,365.08 351.34,363.93 C352.09,362.77 353.61,361.00 354.28,361.00 Z" fill="url(#mshade)"/>
<path d="M354.28,361.00 C354.95,361.00 354.95,362.77 355.37,363.93 C355.79,365.08 355.88,366.31 356.82,367.95 C357.76,369.60 360.12,371.83 361.01,373.81 C361.91,375.78 361.92,377.65 362.18,379.79 C362.44,381.92 362.28,384.48 362.58,386.61 C362.89,388.74 363.60,389.95 364.00,392.59 C364.40,395.23 364.78,399.18 364.98,402.47 C365.19,405.76 365.29,409.73 365.21,412.35 C365.13,414.97 364.98,416.47 364.49,418.20 C364.00,419.93 363.66,421.45 362.28,422.75 C360.89,424.05 359.46,426.00 356.18,426.00 C352.90,426.00 345.23,424.05 342.62,422.75 C340.02,421.45 340.99,419.93 340.55,418.20 C340.11,416.47 340.01,414.97 340.01,412.35 C340.01,409.73 340.24,405.76 340.54,402.47 C340.84,399.18 341.34,395.23 341.83,392.59 C342.31,389.95 343.06,388.74 343.43,386.61 C343.80,384.48 343.71,381.92 344.04,379.79 C344.37,377.65 344.44,375.78 345.39,373.81 C346.35,371.83 348.77,369.60 349.76,367.95 C350.76,366.31 350.59,365.08 351.34,363.93 C352.09,362.77 353.61,361.00 354.28,361.00 Z" fill="#fff" filter="url(#furtex)" opacity="0.7"/>
<path d="M354.28,361.00 C354.95,361.00 354.95,362.77 355.37,363.93 C355.79,365.08 355.88,366.31 356.82,367.95 C357.76,369.60 360.12,371.83 361.01,373.81 C361.91,375.78 361.92,377.65 362.18,379.79 C362.44,381.92 362.28,384.48 362.58,386.61 C362.89,388.74 363.60,389.95 364.00,392.59 C364.40,395.23 364.78,399.18 364.98,402.47 C365.19,405.76 365.29,409.73 365.21,412.35 C365.13,414.97 364.98,416.47 364.49,418.20 C364.00,419.93 363.66,421.45 362.28,422.75 C360.89,424.05 359.46,426.00 356.18,426.00 C352.90,426.00 345.23,424.05 342.62,422.75 C340.02,421.45 340.99,419.93 340.55,418.20 C340.11,416.47 340.01,414.97 340.01,412.35 C340.01,409.73 340.24,405.76 340.54,402.47 C340.84,399.18 341.34,395.23 341.83,392.59 C342.31,389.95 343.06,388.74 343.43,386.61 C343.80,384.48 343.71,381.92 344.04,379.79 C344.37,377.65 344.44,375.78 345.39,373.81 C346.35,371.83 348.77,369.60 349.76,367.95 C350.76,366.31 350.59,365.08 351.34,363.93 C352.09,362.77 353.61,361.00 354.28,361.00 Z" fill="none" stroke="#a0a0a0" stroke-width="1.4" opacity="0.6" filter="url(#blur1)"/>
<ellipse cx="348.36" cy="390.25" rx="4" ry="6" fill="#8a8a8a" opacity="0.12" filter="url(#blur2)"/>
<ellipse cx="359.07" cy="400.00" rx="3.5" ry="7" fill="#8a8a8a" opacity="0.1" filter="url(#blur2)"/>
<ellipse cx="353.40" cy="380.50" rx="5" ry="3" fill="#8a8a8a" opacity="0.12" filter="url(#blur2)"/>
<ellipse cx="350.88" cy="409.75" rx="3" ry="4" fill="#8a8a8a" opacity="0.08" filter="url(#blur2)"/>
<ellipse cx="348.61" cy="379.85" rx="2.2" ry="1.3" fill="#9a9a9a" filter="url(#blur1)"/>
<ellipse cx="358.19" cy="379.20" rx="2.2" ry="1.3" fill="#9a9a9a" filter="url(#blur1)"/>
<ellipse cx="353.40" cy="421.45" rx="1.8" ry="1.2" fill="#b0b0b0" filter="url(#blur1)"/>
<path d="M391.30,426.0 C391.30,438.0 388.6,444.0 388.6,464.6" stroke="#bcbcbc" stroke-width="1.9" fill="none"/>
<ellipse cx="380.00" cy="424.50" rx="3.2" ry="1.5" fill="#9c9c9c"/>
<ellipse cx="402.61" cy="424.50" rx="3.2" ry="1.5" fill="#9c9c9c"/>
<path d="M392.63,361.10 C393.43,361.10 393.38,362.66 393.69,363.78 C394.00,364.89 393.56,366.68 394.49,367.79 C395.42,368.91 397.91,369.57 399.28,370.47 C400.65,371.36 401.98,371.92 402.74,373.14 C403.49,374.37 403.56,374.81 403.80,377.83 C404.05,380.84 404.07,386.75 404.20,391.21 C404.33,395.67 404.60,400.46 404.60,404.59 C404.60,408.71 404.47,412.95 404.20,415.96 C403.94,418.97 403.71,420.98 403.00,422.65 C402.29,424.32 401.23,425.10 399.94,425.99 C398.66,426.88 398.17,428.00 395.29,428.00 C392.41,428.00 385.27,426.88 382.66,425.99 C380.04,425.10 380.31,424.32 379.60,422.65 C378.89,420.98 378.67,418.97 378.40,415.96 C378.13,412.95 378.00,408.71 378.00,404.59 C378.00,400.46 378.27,395.67 378.40,391.21 C378.53,386.75 378.55,380.84 378.80,377.83 C379.04,374.81 379.11,374.37 379.86,373.14 C380.62,371.92 381.95,371.36 383.32,370.47 C384.69,369.57 387.18,368.91 388.11,367.79 C389.04,366.68 388.15,364.89 388.91,363.78 C389.66,362.66 391.83,361.10 392.63,361.10 Z" fill="url(#mfur)"/>
<path d="M392.63,361.10 C393.43,361.10 393.38,362.66 393.69,363.78 C394.00,364.89 393.56,366.68 394.49,367.79 C395.42,368.91 397.91,369.57 399.28,370.47 C400.65,371.36 401.98,371.92 402.74,373.14 C403.49,374.37 403.56,374.81 403.80,377.83 C404.05,380.84 404.07,386.75 404.20,391.21 C404.33,395.67 404.60,400.46 404.60,404.59 C404.60,408.71 404.47,412.95 404.20,415.96 C403.94,418.97 403.71,420.98 403.00,422.65 C402.29,424.32 401.23,425.10 399.94,425.99 C398.66,426.88 398.17,428.00 395.29,428.00 C392.41,428.00 385.27,426.88 382.66,425.99 C380.04,425.10 380.31,424.32 379.60,422.65 C378.89,420.98 378.67,418.97 378.40,415.96 C378.13,412.95 378.00,408.71 378.00,404.59 C378.00,400.46 378.27,395.67 378.40,391.21 C378.53,386.75 378.55,380.84 378.80,377.83 C379.04,374.81 379.11,374.37 379.86,373.14 C380.62,371.92 381.95,371.36 383.32,370.47 C384.69,369.57 387.18,368.91 388.11,367.79 C389.04,366.68 388.15,364.89 388.91,363.78 C389.66,362.66 391.83,361.10 392.63,361.10 Z" fill="url(#mshade)"/>
<path d="M392.63,361.10 C393.43,361.10 393.38,362.66 393.69,363.78 C394.00,364.89 393.56,366.68 394.49,367.79 C395.42,368.91 397.91,369.57 399.28,370.47 C400.65,371.36 401.98,371.92 402.74,373.14 C403.49,374.37 403.56,374.81 403.80,377.83 C404.05,380.84 404.07,386.75 404.20,391.21 C404.33,395.67 404.60,400.46 404.60,404.59 C404.60,408.71 404.47,412.95 404.20,415.96 C403.94,418.97 403.71,420.98 403.00,422.65 C402.29,424.32 401.23,425.10 399.94,425.99 C398.66,426.88 398.17,428.00 395.29,428.00 C392.41,428.00 385.27,426.88 382.66,425.99 C380.04,425.10 380.31,424.32 379.60,422.65 C378.89,420.98 378.67,418.97 378.40,415.96 C378.13,412.95 378.00,408.71 378.00,404.59 C378.00,400.46 378.27,395.67 378.40,391.21 C378.53,386.75 378.55,380.84 378.80,377.83 C379.04,374.81 379.11,374.37 379.86,373.14 C380.62,371.92 381.95,371.36 383.32,370.47 C384.69,369.57 387.18,368.91 388.11,367.79 C389.04,366.68 388.15,364.89 388.91,363.78 C389.66,362.66 391.83,361.10 392.63,361.10 Z" fill="#fff" filter="url(#furtex)" opacity="0.7"/>
<path d="M392.63,361.10 C393.43,361.10 393.38,362.66 393.69,363.78 C394.00,364.89 393.56,366.68 394.49,367.79 C395.42,368.91 397.91,369.57 399.28,370.47 C400.65,371.36 401.98,371.92 402.74,373.14 C403.49,374.37 403.56,374.81 403.80,377.83 C404.05,380.84 404.07,386.75 404.20,391.21 C404.33,395.67 404.60,400.46 404.60,404.59 C404.60,408.71 404.47,412.95 404.20,415.96 C403.94,418.97 403.71,420.98 403.00,422.65 C402.29,424.32 401.23,425.10 399.94,425.99 C398.66,426.88 398.17,428.00 395.29,428.00 C392.41,428.00 385.27,426.88 382.66,425.99 C380.04,425.10 380.31,424.32 379.60,422.65 C378.89,420.98 378.67,418.97 378.40,415.96 C378.13,412.95 378.00,408.71 378.00,404.59 C378.00,400.46 378.27,395.67 378.40,391.21 C378.53,386.75 378.55,380.84 378.80,377.83 C379.04,374.81 379.11,374.37 379.86,373.14 C380.62,371.92 381.95,371.36 383.32,370.47 C384.69,369.57 387.18,368.91 388.11,367.79 C389.04,366.68 388.15,364.89 388.91,363.78 C389.66,362.66 391.83,361.10 392.63,361.10 Z" fill="none" stroke="#a0a0a0" stroke-width="1.4" opacity="0.6" filter="url(#blur1)"/>
<ellipse cx="385.98" cy="391.21" rx="4" ry="6" fill="#8a8a8a" opacity="0.12" filter="url(#blur2)"/>
<ellipse cx="397.29" cy="401.24" rx="3.5" ry="7" fill="#8a8a8a" opacity="0.1" filter="url(#blur2)"/>
<ellipse cx="391.30" cy="381.17" rx="5" ry="3" fill="#8a8a8a" opacity="0.12" filter="url(#blur2)"/>
<ellipse cx="388.64" cy="411.27" rx="3" ry="4" fill="#8a8a8a" opacity="0.08" filter="url(#blur2)"/>
<ellipse cx="386.25" cy="380.50" rx="2.2" ry="1.3" fill="#9a9a9a" filter="url(#blur1)"/>
<ellipse cx="396.35" cy="379.83" rx="2.2" ry="1.3" fill="#9a9a9a" filter="url(#blur1)"/>
<ellipse cx="391.30" cy="423.32" rx="1.8" ry="1.2" fill="#b0b0b0" filter="url(#blur1)"/>
<path d="M420.80,427.7 C420.80,439.7 424.9,445.7 424.9,464.6" stroke="#bcbcbc" stroke-width="1.9" fill="none"/>
<ellipse cx="408.99" cy="426.20" rx="3.2" ry="1.5" fill="#9c9c9c"/>
<ellipse cx="432.62" cy="426.20" rx="3.2" ry="1.5" fill="#9c9c9c"/>
<path d="M448.50,423.5 C448.50,435.5 452.8,441.5 452.8,464.6" stroke="#bcbcbc" stroke-width="1.9" fill="none"/>
<ellipse cx="437.70" cy="422.00" rx="3.2" ry="1.5" fill="#9c9c9c"/>
<ellipse cx="459.30" cy="422.00" rx="3.2" ry="1.5" fill="#9c9c9c"/>
<path d="M449.77,361.00 C450.53,361.00 450.49,362.50 450.79,363.58 C451.08,364.65 450.66,366.38 451.55,367.45 C452.44,368.52 454.81,369.17 456.12,370.03 C457.43,370.89 458.70,371.43 459.42,372.61 C460.14,373.79 460.21,374.22 460.44,377.12 C460.67,380.03 460.69,385.72 460.82,390.02 C460.95,394.32 461.20,398.95 461.20,402.93 C461.20,406.90 461.07,410.99 460.82,413.89 C460.56,416.79 460.35,418.73 459.68,420.34 C459.00,421.95 457.98,422.70 456.75,423.56 C455.53,424.43 455.06,425.50 452.31,425.50 C449.56,425.50 442.74,424.43 440.25,423.56 C437.75,422.70 438.00,421.95 437.32,420.34 C436.65,418.73 436.44,416.79 436.18,413.89 C435.93,410.99 435.80,406.90 435.80,402.93 C435.80,398.95 436.05,394.32 436.18,390.02 C436.31,385.72 436.33,380.03 436.56,377.12 C436.79,374.22 436.86,373.79 437.58,372.61 C438.30,371.43 439.57,370.89 440.88,370.03 C442.19,369.17 444.56,368.52 445.45,367.45 C446.34,366.38 445.49,364.65 446.21,363.58 C446.93,362.50 449.01,361.00 449.77,361.00 Z" fill="url(#mfur)"/>
<path d="M449.77,361.00 C450.53,361.00 450.49,362.50 450.79,363.58 C451.08,364.65 450.66,366.38 451.55,367.45 C452.44,368.52 454.81,369.17 456.12,370.03 C457.43,370.89 458.70,371.43 459.42,372.61 C460.14,373.79 460.21,374.22 460.44,377.12 C460.67,380.03 460.69,385.72 460.82,390.02 C460.95,394.32 461.20,398.95 461.20,402.93 C461.20,406.90 461.07,410.99 460.82,413.89 C460.56,416.79 460.35,418.73 459.68,420.34 C459.00,421.95 457.98,422.70 456.75,423.56 C455.53,424.43 455.06,425.50 452.31,425.50 C449.56,425.50 442.74,424.43 440.25,423.56 C437.75,422.70 438.00,421.95 437.32,420.34 C436.65,418.73 436.44,416.79 436.18,413.89 C435.93,410.99 435.80,406.90 435.80,402.93 C435.80,398.95 436.05,394.32 436.18,390.02 C436.31,385.72 436.33,380.03 436.56,377.12 C436.79,374.22 436.86,373.79 437.58,372.61 C438.30,371.43 439.57,370.89 440.88,370.03 C442.19,369.17 444.56,368.52 445.45,367.45 C446.34,366.38 445.49,364.65 446.21,363.58 C446.93,362.50 449.01,361.00 449.77,361.00 Z" fill="url(#mshade)"/>
<path d="M449.77,361.00 C450.53,361.00 450.49,362.50 450.79,363.58 C451.08,364.65 450.66,366.38 451.55,367.45 C452.44,368.52 454.81,369.17 456.12,370.03 C457.43,370.89 458.70,371.43 459.42,372.61 C460.14,373.79 460.21,374.22 460.44,377.12 C460.67,380.03 460.69,385.72 460.82,390.02 C460.95,394.32 461.20,398.95 461.20,402.93 C461.20,406.90 461.07,410.99 460.82,413.89 C460.56,416.79 460.35,418.73 459.68,420.34 C459.00,421.95 457.98,422.70 456.75,423.56 C455.53,424.43 455.06,425.50 452.31,425.50 C449.56,425.50 442.74,424.43 440.25,423.56 C437.75,422.70 438.00,421.95 437.32,420.34 C436.65,418.73 436.44,416.79 436.18,413.89 C435.93,410.99 435.80,406.90 435.80,402.93 C435.80,398.95 436.05,394.32 436.18,390.02 C436.31,385.72 436.33,380.03 436.56,377.12 C436.79,374.22 436.86,373.79 437.58,372.61 C438.30,371.43 439.57,370.89 440.88,370.03 C442.19,369.17 444.56,368.52 445.45,367.45 C446.34,366.38 445.49,364.65 446.21,363.58 C446.93,362.50 449.01,361.00 449.77,361.00 Z" fill="#fff" filter="url(#furtex)" opacity="0.7"/>
<path d="M449.77,361.00 C450.53,361.00 450.49,362.50 450.79,363.58 C451.08,364.65 450.66,366.38 451.55,367.45 C452.44,368.52 454.81,369.17 456.12,370.03 C457.43,370.89 458.70,371.43 459.42,372.61 C460.14,373.79 460.21,374.22 460.44,377.12 C460.67,380.03 460.69,385.72 460.82,390.02 C460.95,394.32 461.20,398.95 461.20,402.93 C461.20,406.90 461.07,410.99 460.82,413.89 C460.56,416.79 460.35,418.73 459.68,420.34 C459.00,421.95 457.98,422.70 456.75,423.56 C455.53,424.43 455.06,425.50 452.31,425.50 C449.56,425.50 442.74,424.43 440.25,423.56 C437.75,422.70 438.00,421.95 437.32,420.34 C436.65,418.73 436.44,416.79 436.18,413.89 C435.93,410.99 435.80,406.90 435.80,402.93 C435.80,398.95 436.05,394.32 436.18,390.02 C436.31,385.72 436.33,380.03 436.56,377.12 C436.79,374.22 436.86,373.79 437.58,372.61 C438.30,371.43 439.57,370.89 440.88,370.03 C442.19,369.17 444.56,368.52 445.45,367.45 C446.34,366.38 445.49,364.65 446.21,363.58 C446.93,362.50 449.01,361.00 449.77,361.00 Z" fill="none" stroke="#a0a0a0" stroke-width="1.4" opacity="0.6" filter="url(#blur1)"/>
<ellipse cx="443.42" cy="390.02" rx="4" ry="6" fill="#8a8a8a" opacity="0.12" filter="url(#blur2)"/>
<ellipse cx="454.21" cy="399.70" rx="3.5" ry="7" fill="#8a8a8a" opacity="0.1" filter="url(#blur2)"/>
<ellipse cx="448.50" cy="380.35" rx="5" ry="3" fill="#8a8a8a" opacity="0.12" filter="url(#blur2)"/>
<ellipse cx="445.96" cy="409.38" rx="3" ry="4" fill="#8a8a8a" opacity="0.08" filter="url(#blur2)"/>
<ellipse cx="443.67" cy="379.70" rx="2.2" ry="1.3" fill="#9a9a9a" filter="url(#blur1)"/>
<ellipse cx="453.33" cy="379.06" rx="2.2" ry="1.3" fill="#9a9a9a" filter="url(#blur1)"/>
<ellipse cx="448.50" cy="420.99" rx="1.8" ry="1.2" fill="#b0b0b0" filter="url(#blur1)"/>
<circle cx="287.9" cy="411.6" r="3.5" fill="url(#hotspot)"/>
<circle cx="309.4" cy="412.6" r="3.3" fill="url(#gspot)"/>
<circle cx="342.8" cy="409" r="3.1" fill="url(#gspot)"/>
<circle cx="363.3" cy="412" r="3.1" fill="url(#gspot)"/>
<circle cx="337.7" cy="415.4" r="1.7" fill="#3050d0"/>
<circle cx="317.6" cy="413.5" r="1.1" fill="#5040c0"/>
<circle cx="300" cy="366.5" r="1.1" fill="#5a3cc8"/>
<circle cx="301.5" cy="380.5" r="1.2" fill="#5a3cc8"/>
<circle cx="297.5" cy="383" r="0.8" fill="#5a3cc8"/>
<circle cx="301" cy="388.5" r="1" fill="#5a3cc8"/>
<circle cx="353" cy="377.5" r="1.1" fill="#5a3cc8"/>
<circle cx="346" cy="379.5" r="1" fill="#5a3cc8"/>
<circle cx="361" cy="382.5" r="1.1" fill="#5a3cc8"/>
<circle cx="355.5" cy="387" r="0.9" fill="#5a3cc8"/>
<circle cx="354.3" cy="366" r="1.2" fill="#5a3cc8"/>
<circle cx="364" cy="384.5" r="1.0" fill="#5a3cc8"/>
<circle cx="318.8" cy="380.5" r="0.9" fill="#5a3cc8"/>
<circle cx="340" cy="380.5" r="0.8" fill="#5a3cc8"/>
<circle cx="296.5" cy="373.5" r="0.8" fill="#5a3cc8"/>
<circle cx="348.5" cy="386.5" r="0.7" fill="#5a3cc8"/>
<circle cx="309.5" cy="423" r="0.8" fill="#5a3cc8"/>
<path d="M422.19,361.60 C423.02,361.60 422.98,363.19 423.30,364.32 C423.63,365.46 423.16,367.28 424.14,368.41 C425.11,369.55 427.70,370.23 429.14,371.13 C430.58,372.04 431.97,372.61 432.75,373.86 C433.54,375.11 433.61,375.56 433.87,378.62 C434.12,381.69 434.14,387.70 434.28,392.25 C434.42,396.79 434.70,401.67 434.70,405.87 C434.70,410.06 434.56,414.38 434.28,417.44 C434.00,420.51 433.77,422.55 433.03,424.25 C432.29,425.95 431.18,426.75 429.84,427.66 C428.49,428.56 427.98,429.70 424.97,429.70 C421.96,429.70 414.50,428.56 411.76,427.66 C409.03,426.75 409.31,425.95 408.57,424.25 C407.83,422.55 407.60,420.51 407.32,417.44 C407.04,414.38 406.90,410.06 406.90,405.87 C406.90,401.67 407.18,396.79 407.32,392.25 C407.46,387.70 407.48,381.69 407.73,378.62 C407.99,375.56 408.06,375.11 408.85,373.86 C409.63,372.61 411.02,372.04 412.46,371.13 C413.90,370.23 416.49,369.55 417.46,368.41 C418.44,367.28 417.51,365.46 418.30,364.32 C419.09,363.19 421.36,361.60 422.19,361.60 Z" fill="url(#blimouse)"/>
<path d="M422.19,361.60 C423.02,361.60 422.98,363.19 423.30,364.32 C423.63,365.46 423.16,367.28 424.14,368.41 C425.11,369.55 427.70,370.23 429.14,371.13 C430.58,372.04 431.97,372.61 432.75,373.86 C433.54,375.11 433.61,375.56 433.87,378.62 C434.12,381.69 434.14,387.70 434.28,392.25 C434.42,396.79 434.70,401.67 434.70,405.87 C434.70,410.06 434.56,414.38 434.28,417.44 C434.00,420.51 433.77,422.55 433.03,424.25 C432.29,425.95 431.18,426.75 429.84,427.66 C428.49,428.56 427.98,429.70 424.97,429.70 C421.96,429.70 414.50,428.56 411.76,427.66 C409.03,426.75 409.31,425.95 408.57,424.25 C407.83,422.55 407.60,420.51 407.32,417.44 C407.04,414.38 406.90,410.06 406.90,405.87 C406.90,401.67 407.18,396.79 407.32,392.25 C407.46,387.70 407.48,381.69 407.73,378.62 C407.99,375.56 408.06,375.11 408.85,373.86 C409.63,372.61 411.02,372.04 412.46,371.13 C413.90,370.23 416.49,369.55 417.46,368.41 C418.44,367.28 417.51,365.46 418.30,364.32 C419.09,363.19 421.36,361.60 422.19,361.60 Z" fill="none" stroke="#a080d0" stroke-width="1.0" stroke-dasharray="1.2,1.6" opacity="0.9"/>
<path d="M409.6,396.5 C411,393.2 416,393.8 419.5,392.8 C423,391.6 426,390.8 428.3,392.6 C431.2,395 431.8,399.5 430.8,403.8 C429.3,408 425.5,409.8 420,409.4 C415.8,409 412.5,406.8 410.8,403.8 C409.5,401.2 409,398.6 409.6,396.5 Z" fill="#f6f6f6" filter="url(#blur1)"/>
<path d="M414,418.5 C417,416.5 424,416.8 427,418.5 C428.5,421 427,425 423,426.5 C419,427 415,425.5 413.8,423 Z" fill="#c8c0e8" opacity="0.55" filter="url(#blur1)"/>
<path d="M425.5,371 C427.5,370.5 429.5,372 429.5,373.5 C428.5,375 426.5,375 425.5,373.5 Z" fill="#e8e4f0" filter="url(#blur1)"/>
<path d="M430,379.5 C431.5,379 432.5,381 432,383 C431,384 429.8,382.5 430,379.5 Z" fill="#f0f0f0" filter="url(#blur1)"/>
<ellipse cx="416.6" cy="385.5" rx="7.6" ry="5.2" fill="url(#cspot)"/>
<ellipse cx="416.6" cy="385.5" rx="5.2" ry="3.2" fill="#3cc4ec" filter="url(#blur1)"/>
<ellipse cx="415.0" cy="385.3" rx="2.0" ry="1.6" fill="#68d0b8" filter="url(#blur1)"/>
<ellipse cx="419.0" cy="385.6" rx="1.8" ry="1.6" fill="#68d0b8" filter="url(#blur1)"/>
<ellipse cx="411.6" cy="410.2" rx="6.6" ry="6.2" fill="url(#gspot2)"/>
<ellipse cx="411.6" cy="410.0" rx="3.6" ry="3.2" fill="#5cbc38" filter="url(#blur1)"/>
<ellipse cx="432.0" cy="412.0" rx="3.6" ry="4.6" fill="url(#gspot2)"/>
<circle cx="413" cy="419.3" r="1.8" fill="#40b8e8" filter="url(#blur1)"/>
<ellipse cx="420" cy="423.5" rx="5" ry="2.5" fill="#d8d0e8" opacity="0.7" filter="url(#blur1)"/>
<circle cx="419.6" cy="365" r="1.5" fill="#b8a8e0" filter="url(#blur1)"/>
<circle cx="398.6" cy="416.5" r="0.9" fill="#5a3cc8"/>
<text x="327.7" y="356.6" font-size="9" text-anchor="middle" font-weight="normal" fill="#231f20" textLength="49.3" lengthAdjust="spacingAndGlyphs" >ETP1 Day 0</text>
<text x="422.3" y="356.6" font-size="9" text-anchor="middle" font-weight="normal" fill="#231f20" textLength="54.7" lengthAdjust="spacingAndGlyphs" >ETP1 Day 28</text>
<text x="300.4" y="475.1" font-size="8.3" text-anchor="middle" font-weight="normal" fill="#231f20" textLength="24.2" lengthAdjust="spacingAndGlyphs" >7CAR8</text>
<text x="328.1" y="475.1" font-size="8.3" text-anchor="middle" font-weight="normal" fill="#231f20" textLength="15.6" lengthAdjust="spacingAndGlyphs" >UTD</text>
<text x="355.8" y="475.1" font-size="8.3" text-anchor="middle" font-weight="normal" fill="#231f20" textLength="24.2" lengthAdjust="spacingAndGlyphs" >7CAR8</text>
<text x="394.9" y="475.1" font-size="8.3" text-anchor="middle" font-weight="normal" fill="#231f20" textLength="24.2" lengthAdjust="spacingAndGlyphs" >7CAR8</text>
<text x="422.2" y="475.1" font-size="8.3" text-anchor="middle" font-weight="normal" fill="#231f20" textLength="15.6" lengthAdjust="spacingAndGlyphs" >UTD</text>
<text x="449.9" y="475.1" font-size="8.3" text-anchor="middle" font-weight="normal" fill="#231f20" textLength="24.2" lengthAdjust="spacingAndGlyphs" >7CAR8</text>
<text x="300.85" y="484.3" font-size="8.3" text-anchor="middle" fill="#231f20">5&#215;10<tspan font-size="5.2" dy="-3.2">6</tspan></text>
<text x="356.2" y="484.3" font-size="8.3" text-anchor="middle" fill="#231f20">1&#215;10<tspan font-size="5.2" dy="-3.2">6</tspan></text>
<text x="395" y="484.3" font-size="8.3" text-anchor="middle" fill="#231f20">5&#215;10<tspan font-size="5.2" dy="-3.2">6</tspan></text>
<text x="450.3" y="484.3" font-size="8.3" text-anchor="middle" fill="#231f20">1&#215;10<tspan font-size="5.2" dy="-3.2">6</tspan></text>
<text x="6" y="506.4" font-size="10.8" text-anchor="start" font-weight="bold" fill="#000" >D</text>
<line x1="34.6" y1="509.20" x2="34.6" y2="576.8" stroke="#231f20" stroke-width="1.25"/>
<line x1="31.6" y1="576.8" x2="123" y2="576.8" stroke="#231f20" stroke-width="1.25"/>
<line x1="32.0" y1="576.80" x2="34.6" y2="576.80" stroke="#231f20" stroke-width="0.9"/>
<text x="29.0" y="579.3" font-size="6.9" text-anchor="end" font-weight="normal" fill="#231f20" textLength="3.2" lengthAdjust="spacingAndGlyphs" stroke="#231f20" stroke-width="0.12">0</text>
<line x1="32.0" y1="561.05" x2="34.6" y2="561.05" stroke="#231f20" stroke-width="0.9"/>
<line x1="32.0" y1="545.30" x2="34.6" y2="545.30" stroke="#231f20" stroke-width="0.9"/>
<text x="29.0" y="547.8" font-size="6.9" text-anchor="end" font-weight="normal" fill="#231f20" textLength="6.3" lengthAdjust="spacingAndGlyphs" stroke="#231f20" stroke-width="0.12">50</text>
<line x1="32.0" y1="529.55" x2="34.6" y2="529.55" stroke="#231f20" stroke-width="0.9"/>
<line x1="32.0" y1="513.80" x2="34.6" y2="513.80" stroke="#231f20" stroke-width="0.9"/>
<text x="29.0" y="516.3" font-size="6.9" text-anchor="end" font-weight="normal" fill="#231f20" textLength="9.4" lengthAdjust="spacingAndGlyphs" stroke="#231f20" stroke-width="0.12">100</text>
<line x1="34.60" y1="576.8" x2="34.60" y2="579.4" stroke="#231f20" stroke-width="0.9"/>
<line x1="48.96" y1="576.8" x2="48.96" y2="579.4" stroke="#231f20" stroke-width="0.9"/>
<line x1="63.32" y1="576.8" x2="63.32" y2="579.4" stroke="#231f20" stroke-width="0.9"/>
<line x1="77.68" y1="576.8" x2="77.68" y2="579.4" stroke="#231f20" stroke-width="0.9"/>
<line x1="92.04" y1="576.8" x2="92.04" y2="579.4" stroke="#231f20" stroke-width="0.9"/>
<line x1="106.40" y1="576.8" x2="106.40" y2="579.4" stroke="#231f20" stroke-width="0.9"/>
<line x1="120.76" y1="576.8" x2="120.76" y2="579.4" stroke="#231f20" stroke-width="0.9"/>
<text x="34.6" y="587.6999999999999" font-size="6.9" text-anchor="middle" font-weight="normal" fill="#231f20" textLength="3.2" lengthAdjust="spacingAndGlyphs" stroke="#231f20" stroke-width="0.12">0</text>
<text x="63.32" y="587.6999999999999" font-size="6.9" text-anchor="middle" font-weight="normal" fill="#231f20" textLength="6.4" lengthAdjust="spacingAndGlyphs" stroke="#231f20" stroke-width="0.12">20</text>
<text x="92.03999999999999" y="587.6999999999999" font-size="6.9" text-anchor="middle" font-weight="normal" fill="#231f20" textLength="6.4" lengthAdjust="spacingAndGlyphs" stroke="#231f20" stroke-width="0.12">40</text>
<text x="120.75999999999999" y="587.6999999999999" font-size="6.9" text-anchor="middle" font-weight="normal" fill="#231f20" textLength="6.4" lengthAdjust="spacingAndGlyphs" stroke="#231f20" stroke-width="0.12">60</text>
<text x="78.8" y="505.90000000000003" font-size="8.8" text-anchor="middle" font-weight="normal" fill="#231f20" textLength="20.0" lengthAdjust="spacingAndGlyphs" >TH34</text>
<text transform="translate(13.4,545.00) rotate(-90)" font-size="8.4" text-anchor="middle" fill="#231f20" textLength="63.4" lengthAdjust="spacingAndGlyphs" stroke="#231f20" stroke-width="0.12">Probability of survival</text>
<text x="79" y="598.6" font-size="8.9" text-anchor="middle" font-weight="normal" fill="#231f20" textLength="82" lengthAdjust="spacingAndGlyphs" stroke="#231f20" stroke-width="0.12">Weeks from 7CAR8 infusion</text>
<path d="M34.60,513.80 H40.34 V545.30 H42.35 V576.80" fill="none" stroke="#3068a6" stroke-width="1.4" stroke-linejoin="miter"/>
<path d="M34.60,513.80 H52.41 V534.59 H63.61 V556.01 H73.52 V576.80" fill="none" stroke="#1d7a66" stroke-width="1.4" stroke-linejoin="miter"/>
<path d="M34.60,513.80 H57.72 V534.59 H59.59 V556.01 H97.93 V576.80" fill="none" stroke="#f7a21b" stroke-width="1.4" stroke-linejoin="miter"/>
<path d="M34.60,513.80 H57.72 V545.30 H59.30 V576.80" fill="none" stroke="#3db54a" stroke-width="1.4" stroke-linejoin="miter"/>
<path d="M34.60,513.80 H41.78 V529.55 H71.94 V545.30 H73.37 V561.05 H104.68" fill="none" stroke="#7a3d96" stroke-width="1.4" stroke-linejoin="miter"/>
<line x1="104.68" y1="559.55" x2="104.68" y2="561.55" stroke="#231f20" stroke-width="0.8"/>
<path d="M34.60,513.80 H42.07 V545.30 H42.35 V576.80" fill="none" stroke="#d7263f" stroke-width="1.4" stroke-linejoin="miter"/>
<line x1="149.4" y1="509.20" x2="149.4" y2="576.8" stroke="#231f20" stroke-width="1.25"/>
<line x1="146.4" y1="576.8" x2="249.2" y2="576.8" stroke="#231f20" stroke-width="1.25"/>
<line x1="146.8" y1="576.80" x2="149.4" y2="576.80" stroke="#231f20" stroke-width="0.9"/>
<text x="143.8" y="579.3" font-size="6.9" text-anchor="end" font-weight="normal" fill="#231f20" textLength="3.2" lengthAdjust="spacingAndGlyphs" stroke="#231f20" stroke-width="0.12">0</text>
<line x1="146.8" y1="561.05" x2="149.4" y2="561.05" stroke="#231f20" stroke-width="0.9"/>
<line x1="146.8" y1="545.30" x2="149.4" y2="545.30" stroke="#231f20" stroke-width="0.9"/>
<text x="143.8" y="547.8" font-size="6.9" text-anchor="end" font-weight="normal" fill="#231f20" textLength="6.3" lengthAdjust="spacingAndGlyphs" stroke="#231f20" stroke-width="0.12">50</text>
<line x1="146.8" y1="529.55" x2="149.4" y2="529.55" stroke="#231f20" stroke-width="0.9"/>
<line x1="146.8" y1="513.80" x2="149.4" y2="513.80" stroke="#231f20" stroke-width="0.9"/>
<text x="143.8" y="516.3" font-size="6.9" text-anchor="end" font-weight="normal" fill="#231f20" textLength="9.4" lengthAdjust="spacingAndGlyphs" stroke="#231f20" stroke-width="0.12">100</text>
<line x1="149.40" y1="576.8" x2="149.40" y2="579.4" stroke="#231f20" stroke-width="0.9"/>
<line x1="159.01" y1="576.8" x2="159.01" y2="579.4" stroke="#231f20" stroke-width="0.9"/>
<line x1="168.62" y1="576.8" x2="168.62" y2="579.4" stroke="#231f20" stroke-width="0.9"/>
<line x1="178.23" y1="576.8" x2="178.23" y2="579.4" stroke="#231f20" stroke-width="0.9"/>
<line x1="187.84" y1="576.8" x2="187.84" y2="579.4" stroke="#231f20" stroke-width="0.9"/>
<line x1="197.45" y1="576.8" x2="197.45" y2="579.4" stroke="#231f20" stroke-width="0.9"/>
<line x1="207.06" y1="576.8" x2="207.06" y2="579.4" stroke="#231f20" stroke-width="0.9"/>
<line x1="216.67" y1="576.8" x2="216.67" y2="579.4" stroke="#231f20" stroke-width="0.9"/>
<line x1="226.28" y1="576.8" x2="226.28" y2="579.4" stroke="#231f20" stroke-width="0.9"/>
<line x1="235.89" y1="576.8" x2="235.89" y2="579.4" stroke="#231f20" stroke-width="0.9"/>
<line x1="245.50" y1="576.8" x2="245.50" y2="579.4" stroke="#231f20" stroke-width="0.9"/>
<text x="149.4" y="587.6999999999999" font-size="6.9" text-anchor="middle" font-weight="normal" fill="#231f20" textLength="3.2" lengthAdjust="spacingAndGlyphs" stroke="#231f20" stroke-width="0.12">0</text>
<text x="168.62" y="587.6999999999999" font-size="6.9" text-anchor="middle" font-weight="normal" fill="#231f20" textLength="3.2" lengthAdjust="spacingAndGlyphs" stroke="#231f20" stroke-width="0.12">5</text>
<text x="187.84" y="587.6999999999999" font-size="6.9" text-anchor="middle" font-weight="normal" fill="#231f20" textLength="6.4" lengthAdjust="spacingAndGlyphs" stroke="#231f20" stroke-width="0.12">10</text>
<text x="207.06" y="587.6999999999999" font-size="6.9" text-anchor="middle" font-weight="normal" fill="#231f20" textLength="6.4" lengthAdjust="spacingAndGlyphs" stroke="#231f20" stroke-width="0.12">15</text>
<text x="226.28" y="587.6999999999999" font-size="6.9" text-anchor="middle" font-weight="normal" fill="#231f20" textLength="6.4" lengthAdjust="spacingAndGlyphs" stroke="#231f20" stroke-width="0.12">20</text>
<text x="245.5" y="587.6999999999999" font-size="6.9" text-anchor="middle" font-weight="normal" fill="#231f20" textLength="6.4" lengthAdjust="spacingAndGlyphs" stroke="#231f20" stroke-width="0.12">25</text>
<text x="198.8" y="505.90000000000003" font-size="8.8" text-anchor="middle" font-weight="normal" fill="#231f20" textLength="20.2" lengthAdjust="spacingAndGlyphs" >TH75</text>
<text x="198.8" y="598.6" font-size="8.9" text-anchor="middle" font-weight="normal" fill="#231f20" textLength="82" lengthAdjust="spacingAndGlyphs" stroke="#231f20" stroke-width="0.12">Weeks from 7CAR8 infusion</text>
<path d="M149.40,513.80 H200.53 V556.01 H215.52 V576.80" fill="none" stroke="#1d7a66" stroke-width="1.4" stroke-linejoin="miter"/>
<path d="M149.40,513.80 H215.52 V556.01 H226.66 V576.80" fill="none" stroke="#7a3d96" stroke-width="1.4" stroke-linejoin="miter"/>
<path d="M149.40,513.80 H187.46 V534.59 H191.68 V556.01 H197.45 V576.80" fill="none" stroke="#f7a21b" stroke-width="1.4" stroke-linejoin="miter"/>
<path d="M149.40,513.80 H191.68 V534.59 H194.76 V556.01 H197.45 V576.80" fill="none" stroke="#3db54a" stroke-width="1.4" stroke-linejoin="miter"/>
<path d="M149.40,513.80 H162.47 V534.59 H164.39 V556.01 H168.62 V576.80" fill="none" stroke="#d7263f" stroke-width="1.4" stroke-linejoin="miter"/>
<line x1="225.1" y1="507.8" x2="231.79999999999998" y2="507.8" stroke="#d7263f" stroke-width="1.2"/>
<path d="M227.4,508.2 L229.5,508.2 L228.45,506.2 Z" fill="#111"/>
<text x="234.1" y="510.0" font-size="6.2" fill="#231f20">UTD 1&#215;10<tspan font-size="4.2" dy="-2.6">6</tspan></text>
<line x1="225.1" y1="515.2" x2="231.79999999999998" y2="515.2" stroke="#3068a6" stroke-width="1.2"/>
<path d="M227.4,515.6 L229.5,515.6 L228.45,513.6 Z" fill="#111"/>
<text x="234.1" y="517.4000000000001" font-size="6.2" fill="#231f20">UTD 5&#215;10<tspan font-size="4.2" dy="-2.6">6</tspan></text>
<line x1="225.1" y1="522.6" x2="231.79999999999998" y2="522.6" stroke="#3db54a" stroke-width="1.2"/>
<path d="M227.4,523.0 L229.5,523.0 L228.45,521.0 Z" fill="#111"/>
<text x="234.1" y="524.8000000000001" font-size="6.2" fill="#231f20">PD1 WT 1&#215;10<tspan font-size="4.2" dy="-2.6">6</tspan></text>
<line x1="225.1" y1="530.0" x2="231.79999999999998" y2="530.0" stroke="#7a3d96" stroke-width="1.2"/>
<path d="M227.4,530.4 L229.5,530.4 L228.45,528.4 Z" fill="#111"/>
<text x="234.1" y="532.2" font-size="6.2" fill="#231f20">PD1 WT 5&#215;10<tspan font-size="4.2" dy="-2.6">6</tspan></text>
<line x1="225.1" y1="537.8" x2="231.79999999999998" y2="537.8" stroke="#f7a21b" stroke-width="1.2"/>
<path d="M227.4,538.1999999999999 L229.5,538.1999999999999 L228.45,536.1999999999999 Z" fill="#111"/>
<text x="234.1" y="540.0" font-size="6.2" fill="#231f20">PD1 KO 1&#215;10<tspan font-size="4.2" dy="-2.6">6</tspan></text>
<line x1="225.1" y1="545.1" x2="231.79999999999998" y2="545.1" stroke="#1d7a66" stroke-width="1.2"/>
<path d="M227.4,545.5 L229.5,545.5 L228.45,543.5 Z" fill="#111"/>
<text x="234.1" y="547.3000000000001" font-size="6.2" fill="#231f20">PD1 KO 5&#215;10<tspan font-size="4.2" dy="-2.6">6</tspan></text>
<line x1="317.6" y1="509.20" x2="317.6" y2="576.8" stroke="#231f20" stroke-width="1.25"/>
<line x1="314.6" y1="576.8" x2="416.3" y2="576.8" stroke="#231f20" stroke-width="1.25"/>
<line x1="315.0" y1="576.80" x2="317.6" y2="576.80" stroke="#231f20" stroke-width="0.9"/>
<text x="312.0" y="579.3" font-size="6.9" text-anchor="end" font-weight="normal" fill="#231f20" textLength="3.2" lengthAdjust="spacingAndGlyphs" stroke="#231f20" stroke-width="0.12">0</text>
<line x1="315.0" y1="561.05" x2="317.6" y2="561.05" stroke="#231f20" stroke-width="0.9"/>
<line x1="315.0" y1="545.30" x2="317.6" y2="545.30" stroke="#231f20" stroke-width="0.9"/>
<text x="312.0" y="547.8" font-size="6.9" text-anchor="end" font-weight="normal" fill="#231f20" textLength="6.3" lengthAdjust="spacingAndGlyphs" stroke="#231f20" stroke-width="0.12">50</text>
<line x1="315.0" y1="529.55" x2="317.6" y2="529.55" stroke="#231f20" stroke-width="0.9"/>
<line x1="315.0" y1="513.80" x2="317.6" y2="513.80" stroke="#231f20" stroke-width="0.9"/>
<text x="312.0" y="516.3" font-size="6.9" text-anchor="end" font-weight="normal" fill="#231f20" textLength="9.4" lengthAdjust="spacingAndGlyphs" stroke="#231f20" stroke-width="0.12">100</text>
<line x1="317.60" y1="576.8" x2="317.60" y2="579.4" stroke="#231f20" stroke-width="0.9"/>
<line x1="329.53" y1="576.8" x2="329.53" y2="579.4" stroke="#231f20" stroke-width="0.9"/>
<line x1="341.45" y1="576.8" x2="341.45" y2="579.4" stroke="#231f20" stroke-width="0.9"/>
<line x1="353.38" y1="576.8" x2="353.38" y2="579.4" stroke="#231f20" stroke-width="0.9"/>
<line x1="365.30" y1="576.8" x2="365.30" y2="579.4" stroke="#231f20" stroke-width="0.9"/>
<line x1="377.23" y1="576.8" x2="377.23" y2="579.4" stroke="#231f20" stroke-width="0.9"/>
<line x1="389.15" y1="576.8" x2="389.15" y2="579.4" stroke="#231f20" stroke-width="0.9"/>
<line x1="401.08" y1="576.8" x2="401.08" y2="579.4" stroke="#231f20" stroke-width="0.9"/>
<line x1="413.00" y1="576.8" x2="413.00" y2="579.4" stroke="#231f20" stroke-width="0.9"/>
<text x="317.6" y="587.6999999999999" font-size="6.9" text-anchor="middle" font-weight="normal" fill="#231f20" textLength="3.2" lengthAdjust="spacingAndGlyphs" stroke="#231f20" stroke-width="0.12">0</text>
<text x="341.45000000000005" y="587.6999999999999" font-size="6.9" text-anchor="middle" font-weight="normal" fill="#231f20" textLength="6.4" lengthAdjust="spacingAndGlyphs" stroke="#231f20" stroke-width="0.12">10</text>
<text x="365.3" y="587.6999999999999" font-size="6.9" text-anchor="middle" font-weight="normal" fill="#231f20" textLength="6.4" lengthAdjust="spacingAndGlyphs" stroke="#231f20" stroke-width="0.12">20</text>
<text x="389.15000000000003" y="587.6999999999999" font-size="6.9" text-anchor="middle" font-weight="normal" fill="#231f20" textLength="6.4" lengthAdjust="spacingAndGlyphs" stroke="#231f20" stroke-width="0.12">30</text>
<text x="413.0" y="587.6999999999999" font-size="6.9" text-anchor="middle" font-weight="normal" fill="#231f20" textLength="6.4" lengthAdjust="spacingAndGlyphs" stroke="#231f20" stroke-width="0.12">40</text>
<text x="367" y="505.90000000000003" font-size="8.8" text-anchor="middle" font-weight="normal" fill="#231f20" textLength="31.0" lengthAdjust="spacingAndGlyphs" >PATRAP</text>
<text transform="translate(297.0,545.00) rotate(-90)" font-size="8.4" text-anchor="middle" fill="#231f20" textLength="63.4" lengthAdjust="spacingAndGlyphs" stroke="#231f20" stroke-width="0.12">Probability of survival</text>
<text x="365" y="598.6" font-size="8.9" text-anchor="middle" font-weight="normal" fill="#231f20" textLength="82" lengthAdjust="spacingAndGlyphs" stroke="#231f20" stroke-width="0.12">Weeks from 7CAR8 infusion</text>
<path d="M317.60,513.80 H383.90 V534.59 H400.60 V556.01 H407.75 V576.80" fill="none" stroke="#3db54a" stroke-width="1.4" stroke-linejoin="miter"/>
<path d="M383.00,535.29 L384.80,535.29 L383.90,533.59 Z" fill="#111"/>
<path d="M399.70,556.71 L401.50,556.71 L400.60,555.01 Z" fill="#111"/>
<path d="M406.85,577.50 L408.65,577.50 L407.75,575.80 Z" fill="#111"/>
<path d="M317.60,513.80 H355.04 V534.59 H357.19 V556.01 H360.77 V576.80" fill="none" stroke="#2f5f9b" stroke-width="1.4" stroke-linejoin="miter"/>
<path d="M354.14,535.29 L355.94,535.29 L355.04,533.59 Z" fill="#111"/>
<path d="M356.29,556.71 L358.09,556.71 L357.19,555.01 Z" fill="#111"/>
<path d="M359.87,577.50 L361.67,577.50 L360.77,575.80 Z" fill="#111"/>
<line x1="423" y1="517.3" x2="429.7" y2="517.3" stroke="#2f5f9b" stroke-width="1.2"/>
<path d="M425.3,517.6999999999999 L427.4,517.6999999999999 L426.35,515.6999999999999 Z" fill="#111"/>
<text x="432" y="519.5" font-size="7.2" fill="#231f20">UTD 5&#215;10<tspan font-size="4.2" dy="-2.6">6</tspan></text>
<line x1="423" y1="525.9" x2="429.7" y2="525.9" stroke="#3db54a" stroke-width="1.2"/>
<path d="M425.3,526.3 L427.4,526.3 L426.35,524.3 Z" fill="#111"/>
<text x="432" y="528.1" font-size="7.2" fill="#231f20">7CAR8 5&#215;10<tspan font-size="4.2" dy="-2.6">6</tspan></text>
<line x1="34.6" y1="616.20" x2="34.6" y2="683.0" stroke="#231f20" stroke-width="1.25"/>
<line x1="31.6" y1="683.0" x2="123.2" y2="683.0" stroke="#231f20" stroke-width="1.25"/>
<line x1="32.0" y1="683.00" x2="34.6" y2="683.00" stroke="#231f20" stroke-width="0.9"/>
<text x="29.0" y="685.5" font-size="6.9" text-anchor="end" font-weight="normal" fill="#231f20" textLength="3.2" lengthAdjust="spacingAndGlyphs" stroke="#231f20" stroke-width="0.12">0</text>
<line x1="32.0" y1="667.45" x2="34.6" y2="667.45" stroke="#231f20" stroke-width="0.9"/>
<line x1="32.0" y1="651.90" x2="34.6" y2="651.90" stroke="#231f20" stroke-width="0.9"/>
<text x="29.0" y="654.4" font-size="6.9" text-anchor="end" font-weight="normal" fill="#231f20" textLength="6.3" lengthAdjust="spacingAndGlyphs" stroke="#231f20" stroke-width="0.12">50</text>
<line x1="32.0" y1="636.35" x2="34.6" y2="636.35" stroke="#231f20" stroke-width="0.9"/>
<line x1="32.0" y1="620.80" x2="34.6" y2="620.80" stroke="#231f20" stroke-width="0.9"/>
<text x="29.0" y="623.3" font-size="6.9" text-anchor="end" font-weight="normal" fill="#231f20" textLength="9.4" lengthAdjust="spacingAndGlyphs" stroke="#231f20" stroke-width="0.12">100</text>
<line x1="34.60" y1="683.0" x2="34.60" y2="685.6" stroke="#231f20" stroke-width="0.9"/>
<line x1="46.25" y1="683.0" x2="46.25" y2="685.6" stroke="#231f20" stroke-width="0.9"/>
<line x1="57.90" y1="683.0" x2="57.90" y2="685.6" stroke="#231f20" stroke-width="0.9"/>
<line x1="69.55" y1="683.0" x2="69.55" y2="685.6" stroke="#231f20" stroke-width="0.9"/>
<line x1="81.20" y1="683.0" x2="81.20" y2="685.6" stroke="#231f20" stroke-width="0.9"/>
<line x1="92.85" y1="683.0" x2="92.85" y2="685.6" stroke="#231f20" stroke-width="0.9"/>
<line x1="104.50" y1="683.0" x2="104.50" y2="685.6" stroke="#231f20" stroke-width="0.9"/>
<line x1="116.15" y1="683.0" x2="116.15" y2="685.6" stroke="#231f20" stroke-width="0.9"/>
<text x="34.6" y="693.9" font-size="6.9" text-anchor="middle" font-weight="normal" fill="#231f20" textLength="3.2" lengthAdjust="spacingAndGlyphs" stroke="#231f20" stroke-width="0.12">0</text>
<text x="57.900000000000006" y="693.9" font-size="6.9" text-anchor="middle" font-weight="normal" fill="#231f20" textLength="6.4" lengthAdjust="spacingAndGlyphs" stroke="#231f20" stroke-width="0.12">10</text>
<text x="81.2" y="693.9" font-size="6.9" text-anchor="middle" font-weight="normal" fill="#231f20" textLength="6.4" lengthAdjust="spacingAndGlyphs" stroke="#231f20" stroke-width="0.12">20</text>
<text x="104.5" y="693.9" font-size="6.9" text-anchor="middle" font-weight="normal" fill="#231f20" textLength="6.4" lengthAdjust="spacingAndGlyphs" stroke="#231f20" stroke-width="0.12">30</text>
<text x="83.5" y="612.0999999999999" font-size="8.8" text-anchor="middle" font-weight="normal" fill="#231f20" textLength="23.0" lengthAdjust="spacingAndGlyphs" >ALL33</text>
<text transform="translate(13.4,651.60) rotate(-90)" font-size="8.4" text-anchor="middle" fill="#231f20" textLength="63.4" lengthAdjust="spacingAndGlyphs" stroke="#231f20" stroke-width="0.12">Probability of survival</text>
<text x="81.3" y="706.4" font-size="8.9" text-anchor="middle" font-weight="normal" fill="#231f20" textLength="82" lengthAdjust="spacingAndGlyphs" stroke="#231f20" stroke-width="0.12">Weeks from 7CAR8 infusion</text>
<path d="M34.60,620.80 H41.12 V633.24 H61.40 V645.68 H64.42 V658.12 H65.12 V670.56 H111.49 V683.00" fill="none" stroke="#1d7a66" stroke-width="1.4" stroke-linejoin="miter"/>
<path d="M34.60,620.80 H39.49 V633.24 H69.55 V645.68 H71.88 V658.12 H82.13 V670.56 H86.09 V683.00" fill="none" stroke="#7a3d96" stroke-width="1.4" stroke-linejoin="miter"/>
<path d="M34.60,620.80 H48.11 V633.24 H49.28 V645.68 H50.91 V658.12 H53.01 V670.56 H54.41 V683.00" fill="none" stroke="#f7a21b" stroke-width="1.4" stroke-linejoin="miter"/>
<path d="M34.60,620.80 H51.61 V633.24 H52.77 V645.68 H58.60 V658.12 H60.46 V670.56 H68.15 V683.00" fill="none" stroke="#3db54a" stroke-width="1.4" stroke-linejoin="miter"/>
<path d="M34.60,620.80 H39.49 V633.24 H40.19 V645.68 H40.66 V658.12 H41.12 V683.00" fill="none" stroke="#d7263f" stroke-width="1.4" stroke-linejoin="miter"/>
<line x1="149.3" y1="616.40" x2="149.3" y2="683.0" stroke="#231f20" stroke-width="1.25"/>
<line x1="146.3" y1="683.0" x2="249.2" y2="683.0" stroke="#231f20" stroke-width="1.25"/>
<line x1="146.70000000000002" y1="683.00" x2="149.3" y2="683.00" stroke="#231f20" stroke-width="0.9"/>
<text x="143.70000000000002" y="685.5" font-size="6.9" text-anchor="end" font-weight="normal" fill="#231f20" textLength="3.2" lengthAdjust="spacingAndGlyphs" stroke="#231f20" stroke-width="0.12">0</text>
<line x1="146.70000000000002" y1="667.50" x2="149.3" y2="667.50" stroke="#231f20" stroke-width="0.9"/>
<line x1="146.70000000000002" y1="652.00" x2="149.3" y2="652.00" stroke="#231f20" stroke-width="0.9"/>
<text x="143.70000000000002" y="654.5" font-size="6.9" text-anchor="end" font-weight="normal" fill="#231f20" textLength="6.3" lengthAdjust="spacingAndGlyphs" stroke="#231f20" stroke-width="0.12">50</text>
<line x1="146.70000000000002" y1="636.50" x2="149.3" y2="636.50" stroke="#231f20" stroke-width="0.9"/>
<line x1="146.70000000000002" y1="621.00" x2="149.3" y2="621.00" stroke="#231f20" stroke-width="0.9"/>
<text x="143.70000000000002" y="623.5" font-size="6.9" text-anchor="end" font-weight="normal" fill="#231f20" textLength="9.4" lengthAdjust="spacingAndGlyphs" stroke="#231f20" stroke-width="0.12">100</text>
<line x1="149.30" y1="683.0" x2="149.30" y2="685.6" stroke="#231f20" stroke-width="0.9"/>
<line x1="165.30" y1="683.0" x2="165.30" y2="685.6" stroke="#231f20" stroke-width="0.9"/>
<line x1="181.30" y1="683.0" x2="181.30" y2="685.6" stroke="#231f20" stroke-width="0.9"/>
<line x1="197.30" y1="683.0" x2="197.30" y2="685.6" stroke="#231f20" stroke-width="0.9"/>
<line x1="213.30" y1="683.0" x2="213.30" y2="685.6" stroke="#231f20" stroke-width="0.9"/>
<line x1="229.30" y1="683.0" x2="229.30" y2="685.6" stroke="#231f20" stroke-width="0.9"/>
<line x1="245.30" y1="683.0" x2="245.30" y2="685.6" stroke="#231f20" stroke-width="0.9"/>
<text x="149.3" y="693.9" font-size="6.9" text-anchor="middle" font-weight="normal" fill="#231f20" textLength="3.2" lengthAdjust="spacingAndGlyphs" stroke="#231f20" stroke-width="0.12">0</text>
<text x="181.3" y="693.9" font-size="6.9" text-anchor="middle" font-weight="normal" fill="#231f20" textLength="6.4" lengthAdjust="spacingAndGlyphs" stroke="#231f20" stroke-width="0.12">10</text>
<text x="213.3" y="693.9" font-size="6.9" text-anchor="middle" font-weight="normal" fill="#231f20" textLength="6.4" lengthAdjust="spacingAndGlyphs" stroke="#231f20" stroke-width="0.12">20</text>
<text x="245.3" y="693.9" font-size="6.9" text-anchor="middle" font-weight="normal" fill="#231f20" textLength="6.4" lengthAdjust="spacingAndGlyphs" stroke="#231f20" stroke-width="0.12">30</text>
<text x="196.5" y="612.0999999999999" font-size="8.8" text-anchor="middle" font-weight="normal" fill="#231f20" textLength="19.4" lengthAdjust="spacingAndGlyphs" >ALL8</text>
<text x="197.4" y="706.4" font-size="8.9" text-anchor="middle" font-weight="normal" fill="#231f20" textLength="82" lengthAdjust="spacingAndGlyphs" stroke="#231f20" stroke-width="0.12">Weeks from 7CAR8 infusion</text>
<path d="M149.30,621.00 H192.82 V633.40 H206.58 V645.80 H216.18 V658.20 H232.50 V670.60 H236.98 V683.00" fill="none" stroke="#1d7a66" stroke-width="1.4" stroke-linejoin="miter"/>
<path d="M149.30,621.00 H183.54 V633.40 H210.10 V658.20 H232.82 V670.60 H236.02 V683.00" fill="none" stroke="#f7a21b" stroke-width="1.4" stroke-linejoin="miter"/>
<path d="M149.30,621.00 H192.50 V633.40 H200.18 V645.80 H202.42 V658.20 H205.30 V670.60 H206.90 V683.00" fill="none" stroke="#7a3d96" stroke-width="1.4" stroke-linejoin="miter"/>
<path d="M149.30,621.00 H181.30 V633.40 H190.90 V645.80 H196.98 V658.20 H202.10 V670.60 H210.42 V683.00" fill="none" stroke="#3db54a" stroke-width="1.4" stroke-linejoin="miter"/>
<path d="M149.30,621.00 H166.58 V633.40 H171.70 V645.80 H174.80 V658.20 H187.19 V670.60 H220.66 V683.00" fill="none" stroke="#3068a6" stroke-width="1.4" stroke-linejoin="miter"/>
<path d="M149.30,621.00 H176.82 V633.40 H182.80 V645.80 H184.18 V658.20 H185.46 V670.60 H220.66 V683.00" fill="none" stroke="#d7263f" stroke-width="1.4" stroke-linejoin="miter"/>
<line x1="288.3" y1="616.00" x2="288.3" y2="682.8" stroke="#231f20" stroke-width="1.25"/>
<line x1="285.3" y1="682.8" x2="387.1" y2="682.8" stroke="#231f20" stroke-width="1.25"/>
<line x1="285.7" y1="682.80" x2="288.3" y2="682.80" stroke="#231f20" stroke-width="0.9"/>
<text x="282.7" y="685.3" font-size="6.9" text-anchor="end" font-weight="normal" fill="#231f20" textLength="3.2" lengthAdjust="spacingAndGlyphs" stroke="#231f20" stroke-width="0.12">0</text>
<line x1="285.7" y1="667.25" x2="288.3" y2="667.25" stroke="#231f20" stroke-width="0.9"/>
<line x1="285.7" y1="651.70" x2="288.3" y2="651.70" stroke="#231f20" stroke-width="0.9"/>
<text x="282.7" y="654.2" font-size="6.9" text-anchor="end" font-weight="normal" fill="#231f20" textLength="6.3" lengthAdjust="spacingAndGlyphs" stroke="#231f20" stroke-width="0.12">50</text>
<line x1="285.7" y1="636.15" x2="288.3" y2="636.15" stroke="#231f20" stroke-width="0.9"/>
<line x1="285.7" y1="620.60" x2="288.3" y2="620.60" stroke="#231f20" stroke-width="0.9"/>
<text x="282.7" y="623.1" font-size="6.9" text-anchor="end" font-weight="normal" fill="#231f20" textLength="9.4" lengthAdjust="spacingAndGlyphs" stroke="#231f20" stroke-width="0.12">100</text>
<line x1="288.30" y1="682.8" x2="288.30" y2="685.4" stroke="#231f20" stroke-width="0.9"/>
<line x1="300.18" y1="682.8" x2="300.18" y2="685.4" stroke="#231f20" stroke-width="0.9"/>
<line x1="312.05" y1="682.8" x2="312.05" y2="685.4" stroke="#231f20" stroke-width="0.9"/>
<line x1="323.93" y1="682.8" x2="323.93" y2="685.4" stroke="#231f20" stroke-width="0.9"/>
<line x1="335.80" y1="682.8" x2="335.80" y2="685.4" stroke="#231f20" stroke-width="0.9"/>
<line x1="347.68" y1="682.8" x2="347.68" y2="685.4" stroke="#231f20" stroke-width="0.9"/>
<line x1="359.55" y1="682.8" x2="359.55" y2="685.4" stroke="#231f20" stroke-width="0.9"/>
<line x1="371.43" y1="682.8" x2="371.43" y2="685.4" stroke="#231f20" stroke-width="0.9"/>
<line x1="383.30" y1="682.8" x2="383.30" y2="685.4" stroke="#231f20" stroke-width="0.9"/>
<text x="288.3" y="693.6999999999999" font-size="6.9" text-anchor="middle" font-weight="normal" fill="#231f20" textLength="3.2" lengthAdjust="spacingAndGlyphs" stroke="#231f20" stroke-width="0.12">0</text>
<text x="312.05" y="693.6999999999999" font-size="6.9" text-anchor="middle" font-weight="normal" fill="#231f20" textLength="3.2" lengthAdjust="spacingAndGlyphs" stroke="#231f20" stroke-width="0.12">2</text>
<text x="335.8" y="693.6999999999999" font-size="6.9" text-anchor="middle" font-weight="normal" fill="#231f20" textLength="3.2" lengthAdjust="spacingAndGlyphs" stroke="#231f20" stroke-width="0.12">4</text>
<text x="359.55" y="693.6999999999999" font-size="6.9" text-anchor="middle" font-weight="normal" fill="#231f20" textLength="3.2" lengthAdjust="spacingAndGlyphs" stroke="#231f20" stroke-width="0.12">6</text>
<text x="383.3" y="693.6999999999999" font-size="6.9" text-anchor="middle" font-weight="normal" fill="#231f20" textLength="3.2" lengthAdjust="spacingAndGlyphs" stroke="#231f20" stroke-width="0.12">8</text>
<text x="334.6" y="612.0999999999999" font-size="8.8" text-anchor="middle" font-weight="normal" fill="#231f20" textLength="24.2" lengthAdjust="spacingAndGlyphs" >ALL33</text>
<text transform="translate(267.2,651.40) rotate(-90)" font-size="8.4" text-anchor="middle" fill="#231f20" textLength="63.4" lengthAdjust="spacingAndGlyphs" stroke="#231f20" stroke-width="0.12">Probability of survival</text>
<text x="336" y="706.4" font-size="8.9" text-anchor="middle" font-weight="normal" fill="#231f20" textLength="82" lengthAdjust="spacingAndGlyphs" stroke="#231f20" stroke-width="0.12">Weeks from 7CAR8 infusion</text>
<path d="M288.30,620.60 H358.36 V641.13 H361.93 V662.27 H374.99 V682.80" fill="none" stroke="#3db54a" stroke-width="1.4" stroke-linejoin="miter"/>
<path d="M357.46,641.83 L359.26,641.83 L358.36,640.13 Z" fill="#111"/>
<path d="M361.03,662.97 L362.82,662.97 L361.93,661.27 Z" fill="#111"/>
<path d="M374.09,683.50 L375.89,683.50 L374.99,681.80 Z" fill="#111"/>
<path d="M288.30,620.60 H315.61 V682.80" fill="none" stroke="#2f5f9b" stroke-width="1.4" stroke-linejoin="miter"/>
<path d="M314.71,683.50 L316.51,683.50 L315.61,681.80 Z" fill="#111"/>
<line x1="413.7" y1="616.40" x2="413.7" y2="682.8" stroke="#231f20" stroke-width="1.25"/>
<line x1="410.7" y1="682.8" x2="512.7" y2="682.8" stroke="#231f20" stroke-width="1.25"/>
<line x1="411.09999999999997" y1="682.80" x2="413.7" y2="682.80" stroke="#231f20" stroke-width="0.9"/>
<text x="408.09999999999997" y="685.3" font-size="6.9" text-anchor="end" font-weight="normal" fill="#231f20" textLength="3.2" lengthAdjust="spacingAndGlyphs" stroke="#231f20" stroke-width="0.12">0</text>
<line x1="411.09999999999997" y1="667.35" x2="413.7" y2="667.35" stroke="#231f20" stroke-width="0.9"/>
<line x1="411.09999999999997" y1="651.90" x2="413.7" y2="651.90" stroke="#231f20" stroke-width="0.9"/>
<text x="408.09999999999997" y="654.4" font-size="6.9" text-anchor="end" font-weight="normal" fill="#231f20" textLength="6.3" lengthAdjust="spacingAndGlyphs" stroke="#231f20" stroke-width="0.12">50</text>
<line x1="411.09999999999997" y1="636.45" x2="413.7" y2="636.45" stroke="#231f20" stroke-width="0.9"/>
<line x1="411.09999999999997" y1="621.00" x2="413.7" y2="621.00" stroke="#231f20" stroke-width="0.9"/>
<text x="408.09999999999997" y="623.5" font-size="6.9" text-anchor="end" font-weight="normal" fill="#231f20" textLength="9.4" lengthAdjust="spacingAndGlyphs" stroke="#231f20" stroke-width="0.12">100</text>
<line x1="413.70" y1="682.8" x2="413.70" y2="685.4" stroke="#231f20" stroke-width="0.9"/>
<line x1="425.65" y1="682.8" x2="425.65" y2="685.4" stroke="#231f20" stroke-width="0.9"/>
<line x1="437.60" y1="682.8" x2="437.60" y2="685.4" stroke="#231f20" stroke-width="0.9"/>
<line x1="449.55" y1="682.8" x2="449.55" y2="685.4" stroke="#231f20" stroke-width="0.9"/>
<line x1="461.50" y1="682.8" x2="461.50" y2="685.4" stroke="#231f20" stroke-width="0.9"/>
<line x1="473.45" y1="682.8" x2="473.45" y2="685.4" stroke="#231f20" stroke-width="0.9"/>
<line x1="485.40" y1="682.8" x2="485.40" y2="685.4" stroke="#231f20" stroke-width="0.9"/>
<line x1="497.35" y1="682.8" x2="497.35" y2="685.4" stroke="#231f20" stroke-width="0.9"/>
<line x1="509.30" y1="682.8" x2="509.30" y2="685.4" stroke="#231f20" stroke-width="0.9"/>
<text x="413.7" y="693.6999999999999" font-size="6.9" text-anchor="middle" font-weight="normal" fill="#231f20" textLength="3.2" lengthAdjust="spacingAndGlyphs" stroke="#231f20" stroke-width="0.12">0</text>
<text x="437.59999999999997" y="693.6999999999999" font-size="6.9" text-anchor="middle" font-weight="normal" fill="#231f20" textLength="6.4" lengthAdjust="spacingAndGlyphs" stroke="#231f20" stroke-width="0.12">10</text>
<text x="461.5" y="693.6999999999999" font-size="6.9" text-anchor="middle" font-weight="normal" fill="#231f20" textLength="6.4" lengthAdjust="spacingAndGlyphs" stroke="#231f20" stroke-width="0.12">20</text>
<text x="485.4" y="693.6999999999999" font-size="6.9" text-anchor="middle" font-weight="normal" fill="#231f20" textLength="6.4" lengthAdjust="spacingAndGlyphs" stroke="#231f20" stroke-width="0.12">30</text>
<text x="509.3" y="693.6999999999999" font-size="6.9" text-anchor="middle" font-weight="normal" fill="#231f20" textLength="6.4" lengthAdjust="spacingAndGlyphs" stroke="#231f20" stroke-width="0.12">40</text>
<text x="463" y="612.0999999999999" font-size="8.8" text-anchor="middle" font-weight="normal" fill="#231f20" textLength="19.7" lengthAdjust="spacingAndGlyphs" >ETP5</text>
<text x="461.5" y="706.4" font-size="8.9" text-anchor="middle" font-weight="normal" fill="#231f20" textLength="82" lengthAdjust="spacingAndGlyphs" stroke="#231f20" stroke-width="0.12">Weeks from 7CAR8 infusion</text>
<path d="M413.70,621.00 H465.56 V641.39 H476.32 V662.41 H500.46 V682.80" fill="none" stroke="#3db54a" stroke-width="1.4" stroke-linejoin="miter"/>
<path d="M464.66,642.09 L466.46,642.09 L465.56,640.39 Z" fill="#111"/>
<path d="M475.42,663.11 L477.22,663.11 L476.32,661.41 Z" fill="#111"/>
<path d="M499.56,683.50 L501.36,683.50 L500.46,681.80 Z" fill="#111"/>
<path d="M413.70,621.00 H432.58 V641.39 H434.49 V682.80" fill="none" stroke="#2f5f9b" stroke-width="1.4" stroke-linejoin="miter"/>
<path d="M431.68,642.09 L433.48,642.09 L432.58,640.39 Z" fill="#111"/>
<path d="M433.59,683.50 L435.39,683.50 L434.49,681.80 Z" fill="#111"/>
<rect x="0.7" y="0.7" width="518.6" height="710.6" fill="none" stroke="#000" stroke-width="1.4"/>
</svg></body></html>
